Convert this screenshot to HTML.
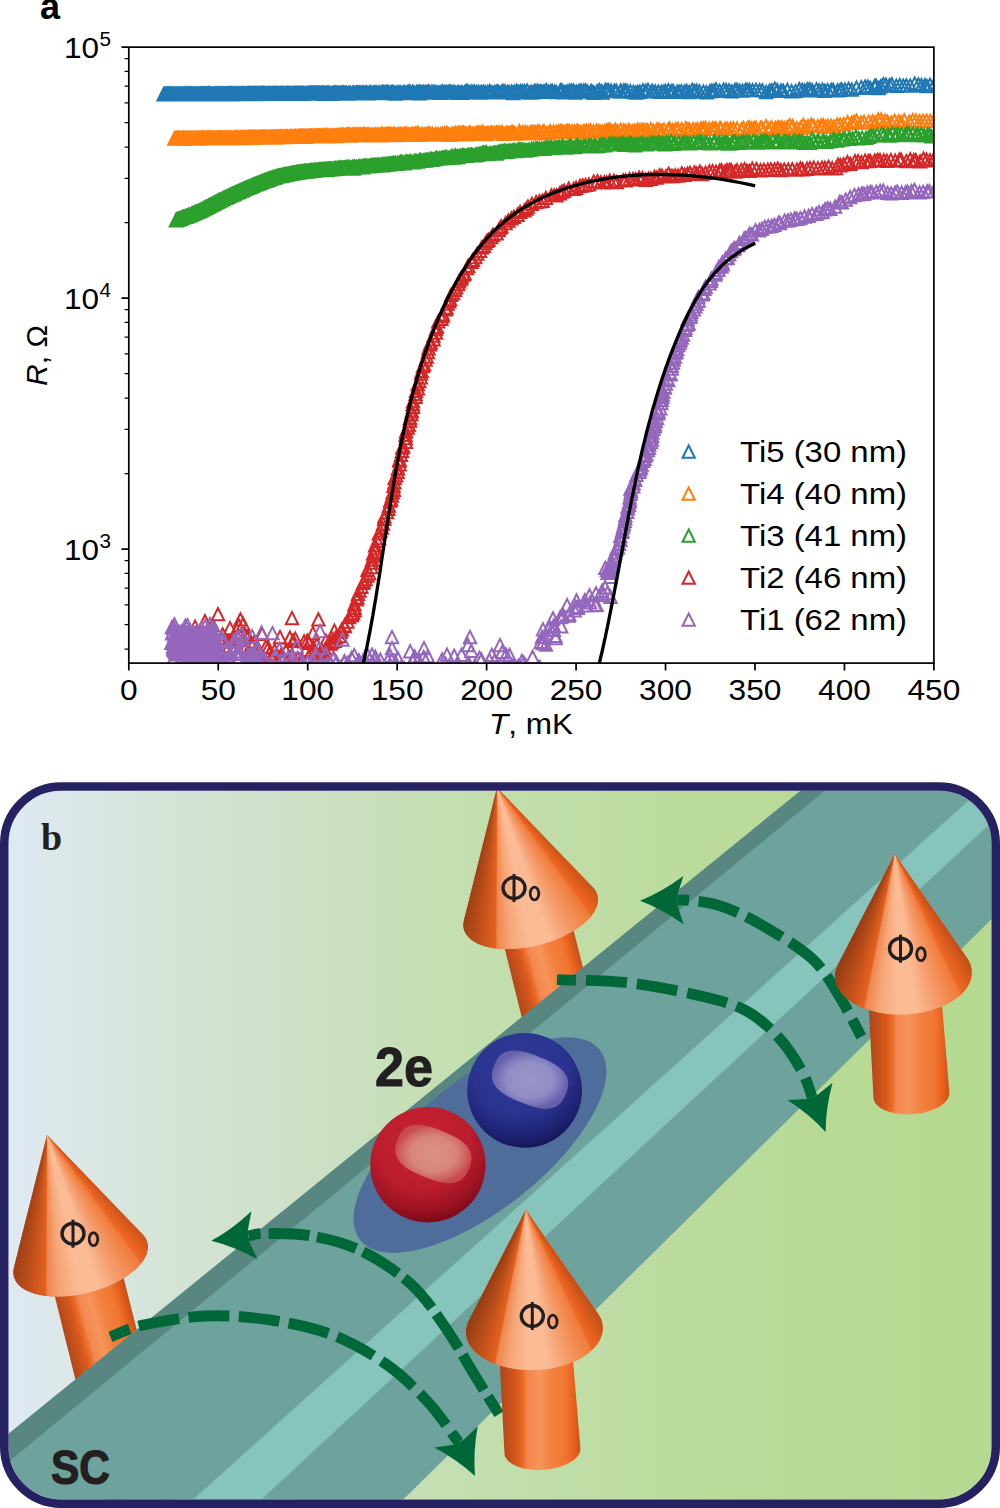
<!DOCTYPE html>
<html><head><meta charset="utf-8"><style>
html,body{margin:0;padding:0;background:#fff;width:1000px;height:1508px;overflow:hidden;}
svg{display:block;}
</style></head><body>
<svg width="1000" height="1508" viewBox="0 0 1000 1508">
<defs><linearGradient id="bg" x1="8" y1="0" x2="992" y2="0" gradientUnits="userSpaceOnUse">
<stop offset="0" stop-color="#e0e9f3"/><stop offset="0.145" stop-color="#d5e5da"/><stop offset="0.297" stop-color="#cde0c6"/>
<stop offset="0.45" stop-color="#c4dfb1"/><stop offset="0.703" stop-color="#bbdb9b"/><stop offset="1" stop-color="#b4d98f"/></linearGradient><clipPath id="pb"><rect x="8.5" y="790.75" width="983" height="708.75" rx="53" ry="53"/></clipPath><linearGradient id="sgB" x1="-25" y1="0" x2="56" y2="0" gradientUnits="userSpaceOnUse"><stop offset="0" stop-color="#b0461a"/><stop offset="0.2" stop-color="#d9591c"/><stop offset="0.27" stop-color="#ea6a26"/><stop offset="0.33" stop-color="#f3874e"/><stop offset="0.48" stop-color="#f6955c"/><stop offset="0.62" stop-color="#f3823f"/><stop offset="0.8" stop-color="#f07532"/><stop offset="0.9" stop-color="#e8601c"/><stop offset="1" stop-color="#c4501a"/></linearGradient><linearGradient id="cgB" x1="-62" y1="0" x2="80" y2="0" gradientUnits="userSpaceOnUse"><stop offset="0" stop-color="#9e3c12"/><stop offset="0.12" stop-color="#c04e19"/><stop offset="0.25" stop-color="#e3611e"/><stop offset="0.275" stop-color="#ef8147"/><stop offset="0.38" stop-color="#f7a679"/><stop offset="0.5" stop-color="#fabd96"/><stop offset="0.62" stop-color="#f8b288"/><stop offset="0.75" stop-color="#f3925d"/><stop offset="0.86" stop-color="#ec6b29"/><stop offset="0.93" stop-color="#e05a1b"/><stop offset="1" stop-color="#c84e18"/></linearGradient><linearGradient id="sgA" x1="19.2" y1="209.4" x2="88.8" y2="190.6" gradientUnits="userSpaceOnUse"><stop offset="0" stop-color="#b0461a"/><stop offset="0.2" stop-color="#d9591c"/><stop offset="0.27" stop-color="#ea6a26"/><stop offset="0.33" stop-color="#f3874e"/><stop offset="0.48" stop-color="#f6955c"/><stop offset="0.62" stop-color="#f3823f"/><stop offset="0.8" stop-color="#f07532"/><stop offset="0.9" stop-color="#e8601c"/><stop offset="1" stop-color="#c4501a"/></linearGradient><linearGradient id="cgA" x1="-33" y1="142.7" x2="99.3" y2="107" gradientUnits="userSpaceOnUse"><stop offset="0" stop-color="#9e3c12"/><stop offset="0.12" stop-color="#c04e19"/><stop offset="0.25" stop-color="#e3611e"/><stop offset="0.275" stop-color="#ef8147"/><stop offset="0.38" stop-color="#f7a679"/><stop offset="0.5" stop-color="#fabd96"/><stop offset="0.62" stop-color="#f8b288"/><stop offset="0.75" stop-color="#f3925d"/><stop offset="0.86" stop-color="#ec6b29"/><stop offset="0.93" stop-color="#e05a1b"/><stop offset="1" stop-color="#c84e18"/></linearGradient><clipPath id="chA"><path d="M0 0 L95.7 99.7 L97.5 101.8 L99 104.2 L100 106.6 L100.7 109.2 L100.9 111.8 L100.7 114.6 L100.1 117.4 L99.2 120.2 L97.8 123.1 L96 125.9 L93.8 128.8 L91.3 131.7 L88.4 134.5 L85.2 137.2 L81.7 139.9 L77.9 142.5 L73.8 144.9 L69.4 147.3 L64.9 149.5 L60.1 151.5 L55.2 153.4 L50.2 155.1 L45.1 156.7 L39.8 158 L34.6 159.2 L29.3 160.1 L24.1 160.8 L19 161.3 L13.9 161.6 L8.9 161.6 L4.1 161.4 L-0.5 161 L-4.9 160.4 L-9.1 159.5 L-13 158.5 L-16.7 157.2 L-20 155.8 L-23 154.1 L-25.7 152.3 L-27.9 150.3 L-29.9 148.1 L-31.4 145.8 L-32.5 143.4 L-33.3 140.9 L-33.6 138.2 L-33.5 135.5 L-33 132.7Z"/></clipPath><clipPath id="chB"><path d="M0 0 L72.1 103.9 L73.9 106.9 L75.4 110 L76.3 113.1 L76.9 116.4 L76.9 119.6 L76.6 122.9 L75.7 126.1 L74.5 129.3 L72.8 132.4 L70.7 135.5 L68.1 138.5 L65.2 141.3 L61.9 144 L58.3 146.6 L54.3 149 L50 151.2 L45.5 153.1 L40.7 154.9 L35.7 156.5 L30.5 157.8 L25.2 158.9 L19.7 159.7 L14.2 160.2 L8.7 160.5 L3.1 160.6 L-2.4 160.3 L-7.8 159.8 L-13.1 159.1 L-18.3 158.1 L-23.3 156.8 L-28.1 155.3 L-32.7 153.6 L-37 151.6 L-41 149.5 L-44.6 147.2 L-47.9 144.6 L-50.9 142 L-53.4 139.1 L-55.5 136.2 L-57.2 133.2 L-58.5 130 L-59.3 126.9 L-59.7 123.6 L-59.7 120.4 L-59.1 117.1 L-58.2 113.9 L-56.8 110.7Z"/></clipPath><radialGradient id="sb" cx="0.45" cy="0.3" r="0.75">
<stop offset="0" stop-color="#2f3b97"/><stop offset="0.55" stop-color="#2a338e"/><stop offset="0.8" stop-color="#1e2272"/><stop offset="1" stop-color="#11124f"/></radialGradient>
<radialGradient id="hb" cx="0.5" cy="0.5" r="0.5">
<stop offset="0" stop-color="#9896c8"/><stop offset="0.6" stop-color="#918ec5"/><stop offset="0.85" stop-color="#7773b7"/><stop offset="1" stop-color="#6561aa"/></radialGradient>
<radialGradient id="sr" cx="0.45" cy="0.3" r="0.75">
<stop offset="0" stop-color="#c62232"/><stop offset="0.55" stop-color="#bb1d2d"/><stop offset="0.8" stop-color="#9a1222"/><stop offset="1" stop-color="#6c0512"/></radialGradient>
<radialGradient id="hr" cx="0.5" cy="0.5" r="0.5">
<stop offset="0" stop-color="#dd9285"/><stop offset="0.6" stop-color="#d8857b"/><stop offset="0.85" stop-color="#cf6463"/><stop offset="1" stop-color="#c84a52"/></radialGradient><clipPath id="ax"><rect x="128.80" y="47.15" width="805.10" height="615.95"/></clipPath></defs>
<rect width="1000" height="1508" fill="#fff"/>
<g clip-path="url(#ax)"><path d="M163.6 88.1l6.15 12.3h-12.3zM164.0 88.0l6.15 12.3h-12.3zM165.0 88.2l6.15 12.3h-12.3zM165.5 88.1l6.15 12.3h-12.3zM166.1 87.9l6.15 12.3h-12.3zM166.8 87.9l6.15 12.3h-12.3zM166.9 87.9l6.15 12.3h-12.3zM167.7 87.9l6.15 12.3h-12.3zM168.2 88.0l6.15 12.3h-12.3zM168.5 88.0l6.15 12.3h-12.3zM168.8 88.0l6.15 12.3h-12.3zM169.4 88.2l6.15 12.3h-12.3zM170.1 88.2l6.15 12.3h-12.3zM170.5 88.0l6.15 12.3h-12.3zM170.8 88.0l6.15 12.3h-12.3zM171.3 88.1l6.15 12.3h-12.3zM172.1 88.3l6.15 12.3h-12.3zM172.6 88.0l6.15 12.3h-12.3zM173.3 88.1l6.15 12.3h-12.3zM174.0 88.2l6.15 12.3h-12.3zM174.5 88.0l6.15 12.3h-12.3zM174.5 87.9l6.15 12.3h-12.3zM175.6 88.2l6.15 12.3h-12.3zM175.6 88.1l6.15 12.3h-12.3zM176.4 88.0l6.15 12.3h-12.3zM177.4 88.0l6.15 12.3h-12.3zM177.7 88.2l6.15 12.3h-12.3zM178.4 88.1l6.15 12.3h-12.3zM179.2 87.9l6.15 12.3h-12.3zM179.6 88.2l6.15 12.3h-12.3zM180.1 88.1l6.15 12.3h-12.3zM180.9 88.0l6.15 12.3h-12.3zM180.7 88.0l6.15 12.3h-12.3zM180.9 88.0l6.15 12.3h-12.3zM181.9 88.3l6.15 12.3h-12.3zM182.2 88.0l6.15 12.3h-12.3zM182.8 88.0l6.15 12.3h-12.3zM183.7 87.9l6.15 12.3h-12.3zM183.9 87.8l6.15 12.3h-12.3zM184.1 88.1l6.15 12.3h-12.3zM184.7 87.9l6.15 12.3h-12.3zM184.7 87.8l6.15 12.3h-12.3zM185.1 88.1l6.15 12.3h-12.3zM186.3 87.9l6.15 12.3h-12.3zM186.6 87.8l6.15 12.3h-12.3zM187.5 88.0l6.15 12.3h-12.3zM187.6 87.8l6.15 12.3h-12.3zM188.1 88.0l6.15 12.3h-12.3zM188.6 87.8l6.15 12.3h-12.3zM189.2 88.1l6.15 12.3h-12.3zM189.5 87.9l6.15 12.3h-12.3zM190.4 87.9l6.15 12.3h-12.3zM190.5 87.9l6.15 12.3h-12.3zM191.1 87.8l6.15 12.3h-12.3zM191.5 88.2l6.15 12.3h-12.3zM192.2 87.9l6.15 12.3h-12.3zM193.2 88.0l6.15 12.3h-12.3zM193.4 88.0l6.15 12.3h-12.3zM194.1 87.8l6.15 12.3h-12.3zM195.1 87.9l6.15 12.3h-12.3zM195.5 87.9l6.15 12.3h-12.3zM196.4 87.9l6.15 12.3h-12.3zM196.5 88.1l6.15 12.3h-12.3zM197.0 87.9l6.15 12.3h-12.3zM197.8 88.1l6.15 12.3h-12.3zM198.0 88.0l6.15 12.3h-12.3zM198.7 87.9l6.15 12.3h-12.3zM198.7 88.1l6.15 12.3h-12.3zM199.6 88.2l6.15 12.3h-12.3zM199.8 87.7l6.15 12.3h-12.3zM200.3 87.9l6.15 12.3h-12.3zM200.8 87.6l6.15 12.3h-12.3zM201.9 87.9l6.15 12.3h-12.3zM202.4 87.7l6.15 12.3h-12.3zM203.0 87.7l6.15 12.3h-12.3zM203.9 88.0l6.15 12.3h-12.3zM204.4 87.8l6.15 12.3h-12.3zM205.3 87.8l6.15 12.3h-12.3zM205.7 88.2l6.15 12.3h-12.3zM206.4 87.9l6.15 12.3h-12.3zM206.3 87.8l6.15 12.3h-12.3zM207.0 87.9l6.15 12.3h-12.3zM207.9 87.9l6.15 12.3h-12.3zM208.0 87.6l6.15 12.3h-12.3zM208.4 87.8l6.15 12.3h-12.3zM208.9 87.7l6.15 12.3h-12.3zM209.7 87.9l6.15 12.3h-12.3zM209.8 87.9l6.15 12.3h-12.3zM210.3 87.9l6.15 12.3h-12.3zM210.7 87.8l6.15 12.3h-12.3zM210.7 87.9l6.15 12.3h-12.3zM211.2 88.1l6.15 12.3h-12.3zM212.1 88.0l6.15 12.3h-12.3zM212.1 87.9l6.15 12.3h-12.3zM213.4 87.7l6.15 12.3h-12.3zM213.8 88.0l6.15 12.3h-12.3zM214.5 88.1l6.15 12.3h-12.3zM215.1 87.6l6.15 12.3h-12.3zM216.2 88.0l6.15 12.3h-12.3zM216.7 87.9l6.15 12.3h-12.3zM217.0 87.9l6.15 12.3h-12.3zM217.8 87.8l6.15 12.3h-12.3zM218.1 88.1l6.15 12.3h-12.3zM218.8 87.8l6.15 12.3h-12.3zM219.4 88.0l6.15 12.3h-12.3zM220.1 87.8l6.15 12.3h-12.3zM220.4 87.8l6.15 12.3h-12.3zM221.7 87.7l6.15 12.3h-12.3zM221.5 88.0l6.15 12.3h-12.3zM222.4 87.8l6.15 12.3h-12.3zM222.8 87.7l6.15 12.3h-12.3zM224.0 87.8l6.15 12.3h-12.3zM223.6 87.9l6.15 12.3h-12.3zM224.1 88.0l6.15 12.3h-12.3zM225.1 88.0l6.15 12.3h-12.3zM225.7 88.1l6.15 12.3h-12.3zM225.9 87.6l6.15 12.3h-12.3zM227.0 87.9l6.15 12.3h-12.3zM227.1 87.7l6.15 12.3h-12.3zM227.9 87.8l6.15 12.3h-12.3zM228.4 87.8l6.15 12.3h-12.3zM229.0 87.9l6.15 12.3h-12.3zM229.9 87.8l6.15 12.3h-12.3zM230.2 87.5l6.15 12.3h-12.3zM230.7 87.9l6.15 12.3h-12.3zM230.6 87.7l6.15 12.3h-12.3zM231.6 88.1l6.15 12.3h-12.3zM231.6 87.6l6.15 12.3h-12.3zM232.5 87.6l6.15 12.3h-12.3zM232.9 87.9l6.15 12.3h-12.3zM234.1 87.7l6.15 12.3h-12.3zM234.2 87.7l6.15 12.3h-12.3zM234.6 87.6l6.15 12.3h-12.3zM235.6 87.8l6.15 12.3h-12.3zM235.6 87.7l6.15 12.3h-12.3zM236.8 87.7l6.15 12.3h-12.3zM237.4 87.6l6.15 12.3h-12.3zM238.1 87.8l6.15 12.3h-12.3zM238.9 87.8l6.15 12.3h-12.3zM238.9 87.7l6.15 12.3h-12.3zM240.0 87.7l6.15 12.3h-12.3zM240.0 87.8l6.15 12.3h-12.3zM240.7 87.9l6.15 12.3h-12.3zM241.4 87.8l6.15 12.3h-12.3zM241.7 87.7l6.15 12.3h-12.3zM242.3 87.6l6.15 12.3h-12.3zM242.8 87.6l6.15 12.3h-12.3zM244.0 87.5l6.15 12.3h-12.3zM244.3 87.6l6.15 12.3h-12.3zM245.0 87.9l6.15 12.3h-12.3zM245.9 87.7l6.15 12.3h-12.3zM246.5 87.7l6.15 12.3h-12.3zM247.0 87.6l6.15 12.3h-12.3zM247.7 87.8l6.15 12.3h-12.3zM248.3 87.5l6.15 12.3h-12.3zM248.7 87.5l6.15 12.3h-12.3zM249.4 87.9l6.15 12.3h-12.3zM249.7 87.6l6.15 12.3h-12.3zM250.7 87.6l6.15 12.3h-12.3zM251.1 87.6l6.15 12.3h-12.3zM251.3 87.5l6.15 12.3h-12.3zM252.5 87.6l6.15 12.3h-12.3zM252.7 87.7l6.15 12.3h-12.3zM253.9 87.5l6.15 12.3h-12.3zM253.6 87.5l6.15 12.3h-12.3zM254.5 87.5l6.15 12.3h-12.3zM254.8 87.9l6.15 12.3h-12.3zM255.5 87.5l6.15 12.3h-12.3zM255.6 87.6l6.15 12.3h-12.3zM255.9 87.9l6.15 12.3h-12.3zM256.6 87.5l6.15 12.3h-12.3zM257.0 87.7l6.15 12.3h-12.3zM257.7 87.5l6.15 12.3h-12.3zM258.3 87.8l6.15 12.3h-12.3zM259.0 87.5l6.15 12.3h-12.3zM259.4 87.5l6.15 12.3h-12.3zM259.9 87.7l6.15 12.3h-12.3zM260.6 87.6l6.15 12.3h-12.3zM260.9 87.6l6.15 12.3h-12.3zM261.8 87.6l6.15 12.3h-12.3zM262.2 87.5l6.15 12.3h-12.3zM262.7 87.3l6.15 12.3h-12.3zM263.4 87.6l6.15 12.3h-12.3zM263.7 87.5l6.15 12.3h-12.3zM264.0 87.6l6.15 12.3h-12.3zM264.7 87.6l6.15 12.3h-12.3zM265.0 87.7l6.15 12.3h-12.3zM265.8 87.6l6.15 12.3h-12.3zM266.5 87.5l6.15 12.3h-12.3zM267.3 87.7l6.15 12.3h-12.3zM267.3 87.7l6.15 12.3h-12.3zM268.4 87.6l6.15 12.3h-12.3zM268.8 87.6l6.15 12.3h-12.3zM269.3 87.4l6.15 12.3h-12.3zM269.7 87.8l6.15 12.3h-12.3zM270.5 87.8l6.15 12.3h-12.3zM270.9 87.5l6.15 12.3h-12.3zM271.4 87.6l6.15 12.3h-12.3zM272.3 87.7l6.15 12.3h-12.3zM272.6 87.7l6.15 12.3h-12.3zM273.3 87.6l6.15 12.3h-12.3zM273.6 87.4l6.15 12.3h-12.3zM274.4 87.5l6.15 12.3h-12.3zM274.5 87.5l6.15 12.3h-12.3zM275.4 87.2l6.15 12.3h-12.3zM276.3 87.6l6.15 12.3h-12.3zM276.7 87.6l6.15 12.3h-12.3zM277.0 87.6l6.15 12.3h-12.3zM278.0 87.7l6.15 12.3h-12.3zM278.1 87.6l6.15 12.3h-12.3zM278.5 87.6l6.15 12.3h-12.3zM279.2 87.5l6.15 12.3h-12.3zM280.2 87.5l6.15 12.3h-12.3zM280.3 87.5l6.15 12.3h-12.3zM281.0 87.7l6.15 12.3h-12.3zM281.0 87.6l6.15 12.3h-12.3zM281.4 87.6l6.15 12.3h-12.3zM282.4 87.4l6.15 12.3h-12.3zM282.6 87.6l6.15 12.3h-12.3zM282.8 87.5l6.15 12.3h-12.3zM283.9 87.5l6.15 12.3h-12.3zM284.3 87.4l6.15 12.3h-12.3zM284.7 87.6l6.15 12.3h-12.3zM285.2 87.6l6.15 12.3h-12.3zM286.6 87.5l6.15 12.3h-12.3zM287.0 87.5l6.15 12.3h-12.3zM287.0 87.5l6.15 12.3h-12.3zM287.1 87.3l6.15 12.3h-12.3zM287.8 87.4l6.15 12.3h-12.3zM288.5 87.4l6.15 12.3h-12.3zM288.9 87.4l6.15 12.3h-12.3zM289.9 87.4l6.15 12.3h-12.3zM290.1 87.4l6.15 12.3h-12.3zM290.2 87.3l6.15 12.3h-12.3zM291.7 87.6l6.15 12.3h-12.3zM291.6 87.7l6.15 12.3h-12.3zM291.8 87.6l6.15 12.3h-12.3zM292.7 87.4l6.15 12.3h-12.3zM293.3 87.5l6.15 12.3h-12.3zM292.7 87.5l6.15 12.3h-12.3zM294.1 87.5l6.15 12.3h-12.3zM294.0 87.5l6.15 12.3h-12.3zM294.7 87.3l6.15 12.3h-12.3zM294.7 87.6l6.15 12.3h-12.3zM296.0 87.7l6.15 12.3h-12.3zM295.9 87.3l6.15 12.3h-12.3zM296.7 87.4l6.15 12.3h-12.3zM297.6 87.2l6.15 12.3h-12.3zM298.1 87.3l6.15 12.3h-12.3zM298.4 87.3l6.15 12.3h-12.3zM299.0 87.6l6.15 12.3h-12.3zM299.8 87.5l6.15 12.3h-12.3zM300.2 87.4l6.15 12.3h-12.3zM300.2 87.4l6.15 12.3h-12.3zM300.7 87.2l6.15 12.3h-12.3zM301.8 87.3l6.15 12.3h-12.3zM301.8 87.4l6.15 12.3h-12.3zM302.3 87.5l6.15 12.3h-12.3zM303.0 87.6l6.15 12.3h-12.3zM303.6 87.3l6.15 12.3h-12.3zM303.5 87.2l6.15 12.3h-12.3zM304.9 87.4l6.15 12.3h-12.3zM305.0 87.4l6.15 12.3h-12.3zM305.8 87.4l6.15 12.3h-12.3zM306.1 87.2l6.15 12.3h-12.3zM307.2 87.4l6.15 12.3h-12.3zM308.5 87.3l6.15 12.3h-12.3zM308.5 87.1l6.15 12.3h-12.3zM309.4 87.2l6.15 12.3h-12.3zM309.8 87.0l6.15 12.3h-12.3zM310.4 87.3l6.15 12.3h-12.3zM311.0 87.3l6.15 12.3h-12.3zM311.6 87.3l6.15 12.3h-12.3zM311.6 87.2l6.15 12.3h-12.3zM312.6 87.0l6.15 12.3h-12.3zM313.1 87.0l6.15 12.3h-12.3zM313.4 87.2l6.15 12.3h-12.3zM314.0 87.1l6.15 12.3h-12.3zM314.4 87.2l6.15 12.3h-12.3zM315.8 87.1l6.15 12.3h-12.3zM315.4 87.4l6.15 12.3h-12.3zM316.4 87.2l6.15 12.3h-12.3zM316.8 87.1l6.15 12.3h-12.3zM317.4 87.1l6.15 12.3h-12.3zM318.1 86.9l6.15 12.3h-12.3zM319.1 87.3l6.15 12.3h-12.3zM319.1 87.3l6.15 12.3h-12.3zM319.5 87.0l6.15 12.3h-12.3zM320.3 87.4l6.15 12.3h-12.3zM321.1 87.1l6.15 12.3h-12.3zM321.9 87.3l6.15 12.3h-12.3zM322.2 87.2l6.15 12.3h-12.3zM322.7 86.8l6.15 12.3h-12.3zM323.2 87.2l6.15 12.3h-12.3zM323.8 87.3l6.15 12.3h-12.3zM324.5 87.6l6.15 12.3h-12.3zM325.2 87.2l6.15 12.3h-12.3zM325.7 87.1l6.15 12.3h-12.3zM326.9 87.0l6.15 12.3h-12.3zM327.4 87.1l6.15 12.3h-12.3zM328.2 87.1l6.15 12.3h-12.3zM329.1 87.0l6.15 12.3h-12.3zM329.7 87.1l6.15 12.3h-12.3zM331.2 87.6l6.15 12.3h-12.3zM331.9 87.2l6.15 12.3h-12.3zM332.7 87.4l6.15 12.3h-12.3zM333.5 87.1l6.15 12.3h-12.3zM334.3 86.9l6.15 12.3h-12.3zM335.0 87.1l6.15 12.3h-12.3zM335.3 86.6l6.15 12.3h-12.3zM336.4 87.1l6.15 12.3h-12.3zM337.2 86.9l6.15 12.3h-12.3zM338.0 87.3l6.15 12.3h-12.3zM339.2 86.9l6.15 12.3h-12.3zM339.9 87.0l6.15 12.3h-12.3zM340.4 87.2l6.15 12.3h-12.3zM341.5 87.1l6.15 12.3h-12.3zM342.2 87.1l6.15 12.3h-12.3zM342.9 86.8l6.15 12.3h-12.3zM343.8 86.8l6.15 12.3h-12.3zM345.0 87.0l6.15 12.3h-12.3zM346.1 87.1l6.15 12.3h-12.3zM346.7 87.1l6.15 12.3h-12.3zM348.1 87.4l6.15 12.3h-12.3zM348.3 87.1l6.15 12.3h-12.3zM349.8 86.9l6.15 12.3h-12.3zM350.5 86.9l6.15 12.3h-12.3zM350.7 87.1l6.15 12.3h-12.3zM352.7 86.8l6.15 12.3h-12.3zM353.7 86.6l6.15 12.3h-12.3zM353.9 86.8l6.15 12.3h-12.3zM355.2 87.1l6.15 12.3h-12.3zM356.4 86.8l6.15 12.3h-12.3zM357.0 87.1l6.15 12.3h-12.3zM357.4 86.8l6.15 12.3h-12.3zM357.9 87.1l6.15 12.3h-12.3zM359.1 86.6l6.15 12.3h-12.3zM360.1 86.7l6.15 12.3h-12.3zM361.0 87.3l6.15 12.3h-12.3zM361.9 86.7l6.15 12.3h-12.3zM362.9 86.8l6.15 12.3h-12.3zM363.5 86.7l6.15 12.3h-12.3zM365.4 86.5l6.15 12.3h-12.3zM366.6 86.8l6.15 12.3h-12.3zM366.9 86.4l6.15 12.3h-12.3zM368.2 87.2l6.15 12.3h-12.3zM369.8 86.3l6.15 12.3h-12.3zM370.3 86.7l6.15 12.3h-12.3zM371.7 86.8l6.15 12.3h-12.3zM372.0 86.9l6.15 12.3h-12.3zM373.7 86.7l6.15 12.3h-12.3zM374.4 86.6l6.15 12.3h-12.3zM375.8 86.4l6.15 12.3h-12.3zM376.7 86.7l6.15 12.3h-12.3zM378.7 86.2l6.15 12.3h-12.3zM379.1 87.0l6.15 12.3h-12.3zM380.3 86.9l6.15 12.3h-12.3zM381.8 86.2l6.15 12.3h-12.3zM382.9 85.8l6.15 12.3h-12.3zM383.6 86.7l6.15 12.3h-12.3zM385.0 86.1l6.15 12.3h-12.3zM386.4 86.3l6.15 12.3h-12.3zM387.2 85.9l6.15 12.3h-12.3zM388.1 86.1l6.15 12.3h-12.3zM389.9 86.6l6.15 12.3h-12.3zM390.9 86.9l6.15 12.3h-12.3zM391.7 86.2l6.15 12.3h-12.3zM392.6 86.1l6.15 12.3h-12.3zM393.9 86.6l6.15 12.3h-12.3zM394.9 87.3l6.15 12.3h-12.3zM395.6 87.4l6.15 12.3h-12.3zM396.7 86.5l6.15 12.3h-12.3zM398.3 86.3l6.15 12.3h-12.3zM400.0 86.3l6.15 12.3h-12.3zM400.6 86.4l6.15 12.3h-12.3zM402.4 86.8l6.15 12.3h-12.3zM403.7 86.5l6.15 12.3h-12.3zM404.7 86.2l6.15 12.3h-12.3zM405.5 86.9l6.15 12.3h-12.3zM407.2 86.1l6.15 12.3h-12.3zM408.6 86.0l6.15 12.3h-12.3zM409.6 85.4l6.15 12.3h-12.3zM410.5 86.3l6.15 12.3h-12.3zM412.6 85.7l6.15 12.3h-12.3zM414.1 86.4l6.15 12.3h-12.3zM414.5 86.7l6.15 12.3h-12.3zM416.5 86.3l6.15 12.3h-12.3zM417.2 86.0l6.15 12.3h-12.3zM418.9 85.8l6.15 12.3h-12.3zM419.8 87.3l6.15 12.3h-12.3zM420.3 85.8l6.15 12.3h-12.3zM421.9 86.4l6.15 12.3h-12.3zM423.4 85.8l6.15 12.3h-12.3zM424.6 86.4l6.15 12.3h-12.3zM426.0 86.0l6.15 12.3h-12.3zM427.4 85.9l6.15 12.3h-12.3zM428.7 85.6l6.15 12.3h-12.3zM429.5 86.0l6.15 12.3h-12.3zM431.8 85.8l6.15 12.3h-12.3zM433.0 86.1l6.15 12.3h-12.3zM434.8 85.7l6.15 12.3h-12.3zM436.6 86.4l6.15 12.3h-12.3zM438.1 86.5l6.15 12.3h-12.3zM439.7 86.7l6.15 12.3h-12.3zM440.4 86.4l6.15 12.3h-12.3zM442.0 85.8l6.15 12.3h-12.3zM442.7 85.6l6.15 12.3h-12.3zM444.4 86.5l6.15 12.3h-12.3zM445.0 85.7l6.15 12.3h-12.3zM446.7 86.3l6.15 12.3h-12.3zM448.2 86.0l6.15 12.3h-12.3zM449.8 85.3l6.15 12.3h-12.3zM451.3 86.1l6.15 12.3h-12.3zM452.2 86.5l6.15 12.3h-12.3zM453.9 85.8l6.15 12.3h-12.3zM455.8 86.5l6.15 12.3h-12.3zM457.7 86.6l6.15 12.3h-12.3zM458.8 85.9l6.15 12.3h-12.3zM461.0 86.3l6.15 12.3h-12.3zM462.5 86.6l6.15 12.3h-12.3zM464.6 86.3l6.15 12.3h-12.3zM466.1 84.7l6.15 12.3h-12.3zM467.5 85.4l6.15 12.3h-12.3zM469.0 85.6l6.15 12.3h-12.3zM471.3 85.6l6.15 12.3h-12.3zM472.6 86.0l6.15 12.3h-12.3zM474.4 85.6l6.15 12.3h-12.3zM476.5 86.1l6.15 12.3h-12.3zM478.4 85.7l6.15 12.3h-12.3zM480.3 86.4l6.15 12.3h-12.3zM481.7 86.1l6.15 12.3h-12.3zM483.4 85.9l6.15 12.3h-12.3zM485.0 86.0l6.15 12.3h-12.3zM487.4 85.9l6.15 12.3h-12.3zM489.2 85.8l6.15 12.3h-12.3zM489.8 85.0l6.15 12.3h-12.3zM492.0 86.3l6.15 12.3h-12.3zM494.4 86.1l6.15 12.3h-12.3zM496.2 85.7l6.15 12.3h-12.3zM497.5 85.6l6.15 12.3h-12.3zM498.7 85.7l6.15 12.3h-12.3zM501.2 86.0l6.15 12.3h-12.3zM502.9 84.8l6.15 12.3h-12.3zM504.5 85.9l6.15 12.3h-12.3zM505.1 85.2l6.15 12.3h-12.3zM507.8 85.7l6.15 12.3h-12.3zM509.4 86.2l6.15 12.3h-12.3zM511.7 85.4l6.15 12.3h-12.3zM513.2 86.9l6.15 12.3h-12.3zM514.6 85.8l6.15 12.3h-12.3zM516.7 84.8l6.15 12.3h-12.3zM518.7 85.9l6.15 12.3h-12.3zM520.5 85.0l6.15 12.3h-12.3zM522.7 85.0l6.15 12.3h-12.3zM524.7 85.1l6.15 12.3h-12.3zM527.1 84.5l6.15 12.3h-12.3zM529.7 86.4l6.15 12.3h-12.3zM531.5 85.8l6.15 12.3h-12.3zM533.3 86.2l6.15 12.3h-12.3zM535.0 84.6l6.15 12.3h-12.3zM537.5 84.6l6.15 12.3h-12.3zM539.1 85.6l6.15 12.3h-12.3zM540.5 85.6l6.15 12.3h-12.3zM541.9 85.5l6.15 12.3h-12.3zM544.1 85.1l6.15 12.3h-12.3zM546.5 84.1l6.15 12.3h-12.3zM548.2 85.8l6.15 12.3h-12.3zM550.4 85.3l6.15 12.3h-12.3zM552.1 84.8l6.15 12.3h-12.3zM554.6 85.6l6.15 12.3h-12.3zM556.3 86.0l6.15 12.3h-12.3zM559.8 85.2l6.15 12.3h-12.3zM560.7 83.9l6.15 12.3h-12.3zM562.2 84.6l6.15 12.3h-12.3zM564.2 86.2l6.15 12.3h-12.3zM566.1 85.8l6.15 12.3h-12.3zM567.8 85.6l6.15 12.3h-12.3zM569.6 84.4l6.15 12.3h-12.3zM571.6 84.7l6.15 12.3h-12.3zM573.4 84.4l6.15 12.3h-12.3zM575.4 86.4l6.15 12.3h-12.3zM576.8 85.5l6.15 12.3h-12.3zM578.8 85.2l6.15 12.3h-12.3zM580.1 84.7l6.15 12.3h-12.3zM581.1 84.8l6.15 12.3h-12.3zM583.6 84.5l6.15 12.3h-12.3zM585.5 84.2l6.15 12.3h-12.3zM587.5 85.4l6.15 12.3h-12.3zM591.0 84.8l6.15 12.3h-12.3zM592.6 85.9l6.15 12.3h-12.3zM594.0 86.6l6.15 12.3h-12.3zM597.1 85.1l6.15 12.3h-12.3zM599.3 84.1l6.15 12.3h-12.3zM601.3 85.1l6.15 12.3h-12.3zM602.7 86.4l6.15 12.3h-12.3zM605.3 83.8l6.15 12.3h-12.3zM607.2 84.3l6.15 12.3h-12.3zM608.7 84.3l6.15 12.3h-12.3zM611.3 84.6l6.15 12.3h-12.3zM614.5 84.5l6.15 12.3h-12.3zM616.4 84.8l6.15 12.3h-12.3zM620.1 85.4l6.15 12.3h-12.3zM620.8 84.3l6.15 12.3h-12.3zM623.8 84.3l6.15 12.3h-12.3zM625.5 84.6l6.15 12.3h-12.3zM627.1 84.7l6.15 12.3h-12.3zM630.3 85.1l6.15 12.3h-12.3zM633.5 85.8l6.15 12.3h-12.3zM636.0 86.5l6.15 12.3h-12.3zM637.7 85.9l6.15 12.3h-12.3zM639.9 85.6l6.15 12.3h-12.3zM642.9 84.2l6.15 12.3h-12.3zM645.7 84.7l6.15 12.3h-12.3zM648.0 83.8l6.15 12.3h-12.3zM651.5 85.2l6.15 12.3h-12.3zM652.7 85.1l6.15 12.3h-12.3zM655.2 85.2l6.15 12.3h-12.3zM658.4 85.4l6.15 12.3h-12.3zM661.4 85.6l6.15 12.3h-12.3zM663.7 85.7l6.15 12.3h-12.3zM665.4 84.8l6.15 12.3h-12.3zM668.4 84.1l6.15 12.3h-12.3zM671.3 85.1l6.15 12.3h-12.3zM673.1 84.7l6.15 12.3h-12.3zM677.0 85.7l6.15 12.3h-12.3zM679.1 85.6l6.15 12.3h-12.3zM681.4 84.9l6.15 12.3h-12.3zM684.5 85.5l6.15 12.3h-12.3zM686.6 84.7l6.15 12.3h-12.3zM689.2 86.0l6.15 12.3h-12.3zM692.3 83.8l6.15 12.3h-12.3zM694.5 85.0l6.15 12.3h-12.3zM696.7 84.6l6.15 12.3h-12.3zM699.5 85.1l6.15 12.3h-12.3zM703.4 85.4l6.15 12.3h-12.3zM706.6 86.1l6.15 12.3h-12.3zM710.0 85.1l6.15 12.3h-12.3zM711.9 84.6l6.15 12.3h-12.3zM714.0 84.4l6.15 12.3h-12.3zM716.1 83.3l6.15 12.3h-12.3zM719.7 84.6l6.15 12.3h-12.3zM723.6 83.6l6.15 12.3h-12.3zM726.1 84.0l6.15 12.3h-12.3zM729.0 84.2l6.15 12.3h-12.3zM731.8 85.2l6.15 12.3h-12.3zM735.0 83.7l6.15 12.3h-12.3zM736.9 83.8l6.15 12.3h-12.3zM739.4 84.5l6.15 12.3h-12.3zM742.4 84.5l6.15 12.3h-12.3zM745.4 83.9l6.15 12.3h-12.3zM747.0 83.7l6.15 12.3h-12.3zM749.3 83.8l6.15 12.3h-12.3zM752.5 84.0l6.15 12.3h-12.3zM756.0 83.7l6.15 12.3h-12.3zM759.6 84.0l6.15 12.3h-12.3zM762.4 84.2l6.15 12.3h-12.3zM766.2 85.9l6.15 12.3h-12.3zM769.6 84.5l6.15 12.3h-12.3zM771.9 84.2l6.15 12.3h-12.3zM774.8 82.6l6.15 12.3h-12.3zM777.3 83.9l6.15 12.3h-12.3zM780.9 84.6l6.15 12.3h-12.3zM783.1 84.5l6.15 12.3h-12.3zM787.4 83.8l6.15 12.3h-12.3zM791.6 85.1l6.15 12.3h-12.3zM795.5 84.9l6.15 12.3h-12.3zM799.3 83.0l6.15 12.3h-12.3zM802.1 83.8l6.15 12.3h-12.3zM804.7 84.2l6.15 12.3h-12.3zM807.6 83.0l6.15 12.3h-12.3zM809.9 83.1l6.15 12.3h-12.3zM812.3 84.0l6.15 12.3h-12.3zM816.5 83.2l6.15 12.3h-12.3zM819.2 84.3l6.15 12.3h-12.3zM822.4 83.5l6.15 12.3h-12.3zM824.7 84.7l6.15 12.3h-12.3zM827.6 83.9l6.15 12.3h-12.3zM831.2 83.7l6.15 12.3h-12.3zM833.1 83.8l6.15 12.3h-12.3zM837.5 84.2l6.15 12.3h-12.3zM840.3 83.8l6.15 12.3h-12.3zM841.8 83.4l6.15 12.3h-12.3zM845.0 83.5l6.15 12.3h-12.3zM848.6 82.7l6.15 12.3h-12.3zM851.8 83.5l6.15 12.3h-12.3zM856.5 81.6l6.15 12.3h-12.3zM861.3 81.1l6.15 12.3h-12.3zM865.1 80.4l6.15 12.3h-12.3zM867.8 80.5l6.15 12.3h-12.3zM870.2 81.8l6.15 12.3h-12.3zM874.6 80.0l6.15 12.3h-12.3zM876.1 79.4l6.15 12.3h-12.3zM878.8 81.9l6.15 12.3h-12.3zM880.8 80.2l6.15 12.3h-12.3zM883.3 78.1l6.15 12.3h-12.3zM885.9 78.4l6.15 12.3h-12.3zM889.6 78.9l6.15 12.3h-12.3zM891.9 78.1l6.15 12.3h-12.3zM896.4 79.6l6.15 12.3h-12.3zM899.8 79.0l6.15 12.3h-12.3zM903.2 79.4l6.15 12.3h-12.3zM906.4 79.3l6.15 12.3h-12.3zM910.2 79.4l6.15 12.3h-12.3zM914.7 77.4l6.15 12.3h-12.3zM918.4 78.2l6.15 12.3h-12.3zM921.5 79.1l6.15 12.3h-12.3zM924.9 79.0l6.15 12.3h-12.3zM926.8 79.9l6.15 12.3h-12.3zM930.0 78.6l6.15 12.3h-12.3zM933.8 79.3l6.15 12.3h-12.3zM938.3 77.8l6.15 12.3h-12.3z" fill="none" stroke="#1f77b4" stroke-width="2.0" stroke-miterlimit="10"/><path d="M174.3 132.4l6.15 12.3h-12.3zM174.9 132.4l6.15 12.3h-12.3zM175.1 132.2l6.15 12.3h-12.3zM176.0 132.3l6.15 12.3h-12.3zM176.5 132.3l6.15 12.3h-12.3zM177.2 132.1l6.15 12.3h-12.3zM177.7 132.3l6.15 12.3h-12.3zM178.2 132.4l6.15 12.3h-12.3zM178.8 132.1l6.15 12.3h-12.3zM179.5 132.2l6.15 12.3h-12.3zM180.0 132.5l6.15 12.3h-12.3zM180.1 132.2l6.15 12.3h-12.3zM180.8 132.5l6.15 12.3h-12.3zM181.7 132.4l6.15 12.3h-12.3zM182.0 132.4l6.15 12.3h-12.3zM182.4 132.4l6.15 12.3h-12.3zM183.1 132.3l6.15 12.3h-12.3zM183.4 132.3l6.15 12.3h-12.3zM183.7 132.1l6.15 12.3h-12.3zM184.4 132.6l6.15 12.3h-12.3zM185.2 132.1l6.15 12.3h-12.3zM185.9 132.5l6.15 12.3h-12.3zM186.6 132.3l6.15 12.3h-12.3zM187.0 132.2l6.15 12.3h-12.3zM187.7 132.3l6.15 12.3h-12.3zM187.7 132.5l6.15 12.3h-12.3zM188.7 132.4l6.15 12.3h-12.3zM189.1 132.2l6.15 12.3h-12.3zM189.6 132.2l6.15 12.3h-12.3zM190.3 132.2l6.15 12.3h-12.3zM191.0 132.1l6.15 12.3h-12.3zM191.7 132.1l6.15 12.3h-12.3zM192.2 132.5l6.15 12.3h-12.3zM193.0 132.2l6.15 12.3h-12.3zM193.6 132.2l6.15 12.3h-12.3zM194.3 132.4l6.15 12.3h-12.3zM195.3 132.1l6.15 12.3h-12.3zM194.9 132.4l6.15 12.3h-12.3zM195.6 132.3l6.15 12.3h-12.3zM195.9 132.1l6.15 12.3h-12.3zM196.9 132.2l6.15 12.3h-12.3zM197.4 132.1l6.15 12.3h-12.3zM198.2 132.4l6.15 12.3h-12.3zM198.6 132.1l6.15 12.3h-12.3zM198.9 132.1l6.15 12.3h-12.3zM199.7 132.2l6.15 12.3h-12.3zM200.4 132.1l6.15 12.3h-12.3zM201.0 132.2l6.15 12.3h-12.3zM201.6 132.3l6.15 12.3h-12.3zM201.6 132.3l6.15 12.3h-12.3zM202.1 132.0l6.15 12.3h-12.3zM202.8 131.9l6.15 12.3h-12.3zM203.2 131.9l6.15 12.3h-12.3zM203.8 132.1l6.15 12.3h-12.3zM204.8 132.1l6.15 12.3h-12.3zM204.9 132.3l6.15 12.3h-12.3zM205.4 132.1l6.15 12.3h-12.3zM206.4 132.3l6.15 12.3h-12.3zM206.7 132.1l6.15 12.3h-12.3zM207.4 132.1l6.15 12.3h-12.3zM207.7 131.8l6.15 12.3h-12.3zM208.2 131.9l6.15 12.3h-12.3zM208.5 132.1l6.15 12.3h-12.3zM208.7 132.2l6.15 12.3h-12.3zM209.4 131.9l6.15 12.3h-12.3zM210.1 131.8l6.15 12.3h-12.3zM210.4 132.0l6.15 12.3h-12.3zM210.3 132.2l6.15 12.3h-12.3zM211.3 131.8l6.15 12.3h-12.3zM211.9 132.3l6.15 12.3h-12.3zM212.6 131.9l6.15 12.3h-12.3zM212.9 132.1l6.15 12.3h-12.3zM213.8 132.2l6.15 12.3h-12.3zM213.9 132.0l6.15 12.3h-12.3zM214.2 132.1l6.15 12.3h-12.3zM215.3 132.3l6.15 12.3h-12.3zM215.7 132.0l6.15 12.3h-12.3zM216.3 132.0l6.15 12.3h-12.3zM217.1 132.2l6.15 12.3h-12.3zM218.0 132.0l6.15 12.3h-12.3zM218.7 131.9l6.15 12.3h-12.3zM218.4 131.9l6.15 12.3h-12.3zM219.3 132.0l6.15 12.3h-12.3zM219.9 131.9l6.15 12.3h-12.3zM220.4 131.8l6.15 12.3h-12.3zM220.7 131.9l6.15 12.3h-12.3zM221.5 131.8l6.15 12.3h-12.3zM222.9 131.7l6.15 12.3h-12.3zM223.1 131.8l6.15 12.3h-12.3zM223.9 132.1l6.15 12.3h-12.3zM224.1 132.0l6.15 12.3h-12.3zM225.0 131.8l6.15 12.3h-12.3zM224.9 132.1l6.15 12.3h-12.3zM225.2 131.8l6.15 12.3h-12.3zM226.8 131.8l6.15 12.3h-12.3zM227.1 132.0l6.15 12.3h-12.3zM227.7 131.9l6.15 12.3h-12.3zM228.0 131.8l6.15 12.3h-12.3zM228.2 131.7l6.15 12.3h-12.3zM228.8 132.0l6.15 12.3h-12.3zM229.8 131.7l6.15 12.3h-12.3zM230.7 131.9l6.15 12.3h-12.3zM231.4 131.7l6.15 12.3h-12.3zM231.1 131.9l6.15 12.3h-12.3zM232.1 131.9l6.15 12.3h-12.3zM232.0 131.8l6.15 12.3h-12.3zM233.5 132.1l6.15 12.3h-12.3zM233.6 131.7l6.15 12.3h-12.3zM234.5 131.9l6.15 12.3h-12.3zM235.2 131.6l6.15 12.3h-12.3zM235.5 131.8l6.15 12.3h-12.3zM235.6 131.6l6.15 12.3h-12.3zM236.7 131.5l6.15 12.3h-12.3zM237.2 131.8l6.15 12.3h-12.3zM237.9 131.8l6.15 12.3h-12.3zM238.3 131.9l6.15 12.3h-12.3zM238.8 131.6l6.15 12.3h-12.3zM238.6 131.4l6.15 12.3h-12.3zM239.0 131.7l6.15 12.3h-12.3zM240.3 131.7l6.15 12.3h-12.3zM240.4 131.5l6.15 12.3h-12.3zM241.0 131.6l6.15 12.3h-12.3zM241.3 131.6l6.15 12.3h-12.3zM242.5 131.9l6.15 12.3h-12.3zM242.9 131.4l6.15 12.3h-12.3zM243.1 131.7l6.15 12.3h-12.3zM243.9 131.5l6.15 12.3h-12.3zM244.5 131.5l6.15 12.3h-12.3zM244.5 131.7l6.15 12.3h-12.3zM245.0 131.4l6.15 12.3h-12.3zM246.0 131.9l6.15 12.3h-12.3zM246.7 131.6l6.15 12.3h-12.3zM247.1 131.5l6.15 12.3h-12.3zM248.1 131.3l6.15 12.3h-12.3zM248.3 131.5l6.15 12.3h-12.3zM249.1 131.5l6.15 12.3h-12.3zM249.5 131.2l6.15 12.3h-12.3zM250.3 131.6l6.15 12.3h-12.3zM250.0 131.5l6.15 12.3h-12.3zM250.9 131.6l6.15 12.3h-12.3zM251.4 131.2l6.15 12.3h-12.3zM251.9 131.4l6.15 12.3h-12.3zM252.7 131.3l6.15 12.3h-12.3zM252.7 131.6l6.15 12.3h-12.3zM253.3 131.4l6.15 12.3h-12.3zM254.0 131.3l6.15 12.3h-12.3zM254.5 131.5l6.15 12.3h-12.3zM255.1 131.6l6.15 12.3h-12.3zM255.6 131.4l6.15 12.3h-12.3zM255.8 131.4l6.15 12.3h-12.3zM255.8 131.3l6.15 12.3h-12.3zM257.1 131.5l6.15 12.3h-12.3zM256.9 131.4l6.15 12.3h-12.3zM257.4 131.3l6.15 12.3h-12.3zM258.1 131.2l6.15 12.3h-12.3zM258.5 131.5l6.15 12.3h-12.3zM259.1 131.4l6.15 12.3h-12.3zM259.6 131.3l6.15 12.3h-12.3zM260.7 131.5l6.15 12.3h-12.3zM261.2 131.3l6.15 12.3h-12.3zM261.8 131.3l6.15 12.3h-12.3zM262.3 131.2l6.15 12.3h-12.3zM263.0 131.2l6.15 12.3h-12.3zM263.2 131.4l6.15 12.3h-12.3zM263.8 131.2l6.15 12.3h-12.3zM264.4 131.3l6.15 12.3h-12.3zM264.7 130.8l6.15 12.3h-12.3zM265.0 131.3l6.15 12.3h-12.3zM266.3 131.2l6.15 12.3h-12.3zM266.6 131.2l6.15 12.3h-12.3zM267.1 131.4l6.15 12.3h-12.3zM268.1 131.2l6.15 12.3h-12.3zM268.2 131.3l6.15 12.3h-12.3zM269.0 131.1l6.15 12.3h-12.3zM270.0 131.1l6.15 12.3h-12.3zM270.7 131.3l6.15 12.3h-12.3zM270.9 131.5l6.15 12.3h-12.3zM271.6 131.1l6.15 12.3h-12.3zM271.6 131.2l6.15 12.3h-12.3zM272.2 131.0l6.15 12.3h-12.3zM272.9 130.9l6.15 12.3h-12.3zM273.9 131.5l6.15 12.3h-12.3zM273.9 131.0l6.15 12.3h-12.3zM274.6 131.0l6.15 12.3h-12.3zM275.4 131.1l6.15 12.3h-12.3zM275.9 131.1l6.15 12.3h-12.3zM276.0 131.0l6.15 12.3h-12.3zM277.2 131.2l6.15 12.3h-12.3zM277.1 131.0l6.15 12.3h-12.3zM277.9 131.0l6.15 12.3h-12.3zM278.1 131.1l6.15 12.3h-12.3zM278.7 131.0l6.15 12.3h-12.3zM279.4 130.9l6.15 12.3h-12.3zM279.9 130.7l6.15 12.3h-12.3zM280.4 131.0l6.15 12.3h-12.3zM280.6 130.8l6.15 12.3h-12.3zM281.5 130.7l6.15 12.3h-12.3zM282.4 130.9l6.15 12.3h-12.3zM283.2 130.8l6.15 12.3h-12.3zM284.0 130.9l6.15 12.3h-12.3zM284.2 130.9l6.15 12.3h-12.3zM285.1 130.7l6.15 12.3h-12.3zM286.5 130.8l6.15 12.3h-12.3zM286.3 130.4l6.15 12.3h-12.3zM286.6 131.0l6.15 12.3h-12.3zM287.1 130.7l6.15 12.3h-12.3zM287.9 130.7l6.15 12.3h-12.3zM288.3 130.7l6.15 12.3h-12.3zM289.9 130.8l6.15 12.3h-12.3zM290.2 130.8l6.15 12.3h-12.3zM290.6 130.7l6.15 12.3h-12.3zM290.7 130.7l6.15 12.3h-12.3zM291.1 130.4l6.15 12.3h-12.3zM291.4 130.6l6.15 12.3h-12.3zM292.0 130.7l6.15 12.3h-12.3zM292.8 130.8l6.15 12.3h-12.3zM293.2 130.7l6.15 12.3h-12.3zM294.2 130.7l6.15 12.3h-12.3zM294.5 130.4l6.15 12.3h-12.3zM295.2 130.3l6.15 12.3h-12.3zM296.1 130.5l6.15 12.3h-12.3zM295.8 130.4l6.15 12.3h-12.3zM297.1 130.4l6.15 12.3h-12.3zM297.4 130.5l6.15 12.3h-12.3zM298.2 130.4l6.15 12.3h-12.3zM298.6 130.6l6.15 12.3h-12.3zM299.0 130.4l6.15 12.3h-12.3zM299.7 130.5l6.15 12.3h-12.3zM300.0 130.4l6.15 12.3h-12.3zM300.4 130.1l6.15 12.3h-12.3zM301.2 130.2l6.15 12.3h-12.3zM301.3 130.7l6.15 12.3h-12.3zM302.2 130.1l6.15 12.3h-12.3zM302.5 130.6l6.15 12.3h-12.3zM302.7 130.3l6.15 12.3h-12.3zM303.7 130.0l6.15 12.3h-12.3zM304.9 130.0l6.15 12.3h-12.3zM305.0 130.6l6.15 12.3h-12.3zM305.5 130.4l6.15 12.3h-12.3zM306.0 130.3l6.15 12.3h-12.3zM306.3 130.5l6.15 12.3h-12.3zM307.3 130.2l6.15 12.3h-12.3zM307.7 130.1l6.15 12.3h-12.3zM308.8 130.3l6.15 12.3h-12.3zM309.4 130.2l6.15 12.3h-12.3zM309.7 130.0l6.15 12.3h-12.3zM310.4 130.1l6.15 12.3h-12.3zM311.1 130.0l6.15 12.3h-12.3zM311.4 129.9l6.15 12.3h-12.3zM312.2 130.0l6.15 12.3h-12.3zM312.4 130.0l6.15 12.3h-12.3zM312.9 129.9l6.15 12.3h-12.3zM313.9 130.3l6.15 12.3h-12.3zM314.4 130.3l6.15 12.3h-12.3zM315.4 130.1l6.15 12.3h-12.3zM316.4 130.0l6.15 12.3h-12.3zM316.7 129.9l6.15 12.3h-12.3zM316.1 130.1l6.15 12.3h-12.3zM317.6 130.1l6.15 12.3h-12.3zM317.9 130.1l6.15 12.3h-12.3zM318.4 130.1l6.15 12.3h-12.3zM318.8 129.9l6.15 12.3h-12.3zM319.5 129.9l6.15 12.3h-12.3zM320.1 129.6l6.15 12.3h-12.3zM320.7 129.8l6.15 12.3h-12.3zM322.2 129.5l6.15 12.3h-12.3zM322.5 129.9l6.15 12.3h-12.3zM322.6 129.9l6.15 12.3h-12.3zM323.8 129.6l6.15 12.3h-12.3zM324.3 129.9l6.15 12.3h-12.3zM324.9 129.6l6.15 12.3h-12.3zM325.9 129.7l6.15 12.3h-12.3zM326.5 129.3l6.15 12.3h-12.3zM327.5 129.7l6.15 12.3h-12.3zM327.7 129.3l6.15 12.3h-12.3zM328.9 130.0l6.15 12.3h-12.3zM329.0 129.7l6.15 12.3h-12.3zM329.7 130.1l6.15 12.3h-12.3zM331.1 129.6l6.15 12.3h-12.3zM331.9 129.8l6.15 12.3h-12.3zM332.4 129.8l6.15 12.3h-12.3zM333.7 129.5l6.15 12.3h-12.3zM334.1 129.8l6.15 12.3h-12.3zM335.2 129.5l6.15 12.3h-12.3zM336.2 129.5l6.15 12.3h-12.3zM337.2 129.9l6.15 12.3h-12.3zM337.9 129.5l6.15 12.3h-12.3zM339.0 128.9l6.15 12.3h-12.3zM339.4 129.1l6.15 12.3h-12.3zM340.6 129.5l6.15 12.3h-12.3zM341.2 129.4l6.15 12.3h-12.3zM341.9 129.1l6.15 12.3h-12.3zM342.7 128.9l6.15 12.3h-12.3zM343.6 128.9l6.15 12.3h-12.3zM344.4 129.3l6.15 12.3h-12.3zM345.5 129.4l6.15 12.3h-12.3zM346.4 128.8l6.15 12.3h-12.3zM347.2 129.1l6.15 12.3h-12.3zM348.1 128.6l6.15 12.3h-12.3zM348.8 129.1l6.15 12.3h-12.3zM349.6 128.8l6.15 12.3h-12.3zM350.4 128.8l6.15 12.3h-12.3zM351.2 129.5l6.15 12.3h-12.3zM353.0 128.7l6.15 12.3h-12.3zM352.8 128.6l6.15 12.3h-12.3zM354.1 128.6l6.15 12.3h-12.3zM354.7 129.0l6.15 12.3h-12.3zM356.1 128.4l6.15 12.3h-12.3zM356.9 128.8l6.15 12.3h-12.3zM357.1 128.5l6.15 12.3h-12.3zM358.1 128.6l6.15 12.3h-12.3zM359.4 128.8l6.15 12.3h-12.3zM360.6 129.0l6.15 12.3h-12.3zM360.6 128.4l6.15 12.3h-12.3zM361.9 128.8l6.15 12.3h-12.3zM363.1 128.9l6.15 12.3h-12.3zM363.4 128.1l6.15 12.3h-12.3zM364.5 128.6l6.15 12.3h-12.3zM365.4 128.4l6.15 12.3h-12.3zM367.1 128.5l6.15 12.3h-12.3zM368.2 128.4l6.15 12.3h-12.3zM369.8 128.5l6.15 12.3h-12.3zM370.3 129.2l6.15 12.3h-12.3zM371.9 128.7l6.15 12.3h-12.3zM372.0 128.9l6.15 12.3h-12.3zM372.9 129.1l6.15 12.3h-12.3zM373.8 128.9l6.15 12.3h-12.3zM375.5 128.3l6.15 12.3h-12.3zM376.7 129.2l6.15 12.3h-12.3zM377.7 128.5l6.15 12.3h-12.3zM378.6 129.0l6.15 12.3h-12.3zM379.5 128.9l6.15 12.3h-12.3zM380.8 128.3l6.15 12.3h-12.3zM381.8 128.3l6.15 12.3h-12.3zM382.4 129.1l6.15 12.3h-12.3zM382.4 128.0l6.15 12.3h-12.3zM384.0 128.7l6.15 12.3h-12.3zM385.1 128.6l6.15 12.3h-12.3zM386.2 128.3l6.15 12.3h-12.3zM387.4 128.2l6.15 12.3h-12.3zM388.4 127.9l6.15 12.3h-12.3zM389.6 128.8l6.15 12.3h-12.3zM390.6 127.9l6.15 12.3h-12.3zM391.8 128.3l6.15 12.3h-12.3zM393.1 128.8l6.15 12.3h-12.3zM394.3 127.6l6.15 12.3h-12.3zM395.8 128.9l6.15 12.3h-12.3zM397.3 128.2l6.15 12.3h-12.3zM398.2 128.7l6.15 12.3h-12.3zM399.4 128.2l6.15 12.3h-12.3zM400.3 128.0l6.15 12.3h-12.3zM401.8 128.3l6.15 12.3h-12.3zM403.6 128.3l6.15 12.3h-12.3zM404.5 128.0l6.15 12.3h-12.3zM406.4 127.5l6.15 12.3h-12.3zM406.8 127.8l6.15 12.3h-12.3zM408.6 128.5l6.15 12.3h-12.3zM410.1 128.6l6.15 12.3h-12.3zM411.6 128.3l6.15 12.3h-12.3zM413.0 128.1l6.15 12.3h-12.3zM414.4 127.9l6.15 12.3h-12.3zM415.8 127.4l6.15 12.3h-12.3zM417.5 126.9l6.15 12.3h-12.3zM418.6 127.4l6.15 12.3h-12.3zM419.6 128.7l6.15 12.3h-12.3zM421.8 128.0l6.15 12.3h-12.3zM422.6 128.4l6.15 12.3h-12.3zM424.1 128.5l6.15 12.3h-12.3zM425.8 128.1l6.15 12.3h-12.3zM427.5 128.1l6.15 12.3h-12.3zM428.1 127.6l6.15 12.3h-12.3zM429.7 127.6l6.15 12.3h-12.3zM430.6 128.4l6.15 12.3h-12.3zM432.1 127.7l6.15 12.3h-12.3zM432.8 128.2l6.15 12.3h-12.3zM435.3 128.5l6.15 12.3h-12.3zM435.9 128.0l6.15 12.3h-12.3zM437.9 128.3l6.15 12.3h-12.3zM438.4 128.4l6.15 12.3h-12.3zM440.4 128.3l6.15 12.3h-12.3zM442.3 127.6l6.15 12.3h-12.3zM444.6 127.2l6.15 12.3h-12.3zM445.1 128.0l6.15 12.3h-12.3zM446.7 126.9l6.15 12.3h-12.3zM447.9 127.8l6.15 12.3h-12.3zM449.6 128.6l6.15 12.3h-12.3zM451.8 127.7l6.15 12.3h-12.3zM453.4 128.1l6.15 12.3h-12.3zM454.8 127.8l6.15 12.3h-12.3zM455.8 127.0l6.15 12.3h-12.3zM457.6 127.6l6.15 12.3h-12.3zM458.3 127.3l6.15 12.3h-12.3zM459.0 126.7l6.15 12.3h-12.3zM460.5 127.3l6.15 12.3h-12.3zM462.3 126.5l6.15 12.3h-12.3zM463.7 126.8l6.15 12.3h-12.3zM465.3 127.2l6.15 12.3h-12.3zM466.9 128.3l6.15 12.3h-12.3zM468.0 127.4l6.15 12.3h-12.3zM469.7 126.8l6.15 12.3h-12.3zM470.5 126.7l6.15 12.3h-12.3zM472.9 127.6l6.15 12.3h-12.3zM474.9 127.6l6.15 12.3h-12.3zM477.0 126.5l6.15 12.3h-12.3zM479.0 126.5l6.15 12.3h-12.3zM480.4 126.9l6.15 12.3h-12.3zM482.3 125.8l6.15 12.3h-12.3zM484.5 127.0l6.15 12.3h-12.3zM486.1 127.9l6.15 12.3h-12.3zM487.3 126.9l6.15 12.3h-12.3zM488.7 127.3l6.15 12.3h-12.3zM491.0 126.6l6.15 12.3h-12.3zM492.1 126.8l6.15 12.3h-12.3zM494.5 126.8l6.15 12.3h-12.3zM496.4 126.4l6.15 12.3h-12.3zM497.6 126.9l6.15 12.3h-12.3zM498.9 126.8l6.15 12.3h-12.3zM500.0 126.7l6.15 12.3h-12.3zM502.1 126.0l6.15 12.3h-12.3zM504.2 127.7l6.15 12.3h-12.3zM506.5 126.8l6.15 12.3h-12.3zM507.9 126.8l6.15 12.3h-12.3zM509.5 127.2l6.15 12.3h-12.3zM511.4 126.2l6.15 12.3h-12.3zM512.6 126.3l6.15 12.3h-12.3zM513.9 126.7l6.15 12.3h-12.3zM515.2 127.5l6.15 12.3h-12.3zM518.4 126.9l6.15 12.3h-12.3zM519.2 124.9l6.15 12.3h-12.3zM520.9 127.3l6.15 12.3h-12.3zM522.9 126.2l6.15 12.3h-12.3zM523.2 126.3l6.15 12.3h-12.3zM525.6 126.3l6.15 12.3h-12.3zM527.3 126.6l6.15 12.3h-12.3zM529.7 126.7l6.15 12.3h-12.3zM531.4 125.4l6.15 12.3h-12.3zM533.4 126.1l6.15 12.3h-12.3zM535.0 126.0l6.15 12.3h-12.3zM536.1 127.2l6.15 12.3h-12.3zM537.7 125.3l6.15 12.3h-12.3zM539.5 125.5l6.15 12.3h-12.3zM542.5 125.8l6.15 12.3h-12.3zM544.0 125.2l6.15 12.3h-12.3zM546.6 127.2l6.15 12.3h-12.3zM549.1 126.2l6.15 12.3h-12.3zM550.4 125.2l6.15 12.3h-12.3zM553.5 125.6l6.15 12.3h-12.3zM556.3 125.8l6.15 12.3h-12.3zM558.4 125.4l6.15 12.3h-12.3zM560.0 125.6l6.15 12.3h-12.3zM561.2 124.7l6.15 12.3h-12.3zM562.8 125.7l6.15 12.3h-12.3zM564.9 125.9l6.15 12.3h-12.3zM566.7 125.1l6.15 12.3h-12.3zM567.8 124.8l6.15 12.3h-12.3zM569.6 125.1l6.15 12.3h-12.3zM572.2 125.2l6.15 12.3h-12.3zM574.6 125.5l6.15 12.3h-12.3zM576.5 125.6l6.15 12.3h-12.3zM577.6 124.4l6.15 12.3h-12.3zM580.1 125.7l6.15 12.3h-12.3zM583.1 125.5l6.15 12.3h-12.3zM584.2 125.2l6.15 12.3h-12.3zM586.4 124.6l6.15 12.3h-12.3zM588.5 125.0l6.15 12.3h-12.3zM590.5 124.1l6.15 12.3h-12.3zM593.6 125.1l6.15 12.3h-12.3zM596.6 124.3l6.15 12.3h-12.3zM599.0 125.0l6.15 12.3h-12.3zM600.2 125.7l6.15 12.3h-12.3zM602.2 125.5l6.15 12.3h-12.3zM604.5 124.9l6.15 12.3h-12.3zM606.5 124.6l6.15 12.3h-12.3zM608.0 124.0l6.15 12.3h-12.3zM609.6 123.4l6.15 12.3h-12.3zM611.3 125.0l6.15 12.3h-12.3zM613.3 125.3l6.15 12.3h-12.3zM615.3 123.8l6.15 12.3h-12.3zM617.3 125.1l6.15 12.3h-12.3zM620.5 123.7l6.15 12.3h-12.3zM623.5 124.2l6.15 12.3h-12.3zM625.4 124.7l6.15 12.3h-12.3zM628.6 123.7l6.15 12.3h-12.3zM629.9 125.0l6.15 12.3h-12.3zM632.4 125.0l6.15 12.3h-12.3zM634.7 124.5l6.15 12.3h-12.3zM637.6 123.6l6.15 12.3h-12.3zM639.2 124.2l6.15 12.3h-12.3zM641.3 123.8l6.15 12.3h-12.3zM643.8 123.5l6.15 12.3h-12.3zM646.1 124.2l6.15 12.3h-12.3zM647.5 124.3l6.15 12.3h-12.3zM650.8 123.0l6.15 12.3h-12.3zM653.4 124.7l6.15 12.3h-12.3zM656.9 123.3l6.15 12.3h-12.3zM659.1 123.3l6.15 12.3h-12.3zM661.7 124.6l6.15 12.3h-12.3zM664.0 123.5l6.15 12.3h-12.3zM668.0 123.8l6.15 12.3h-12.3zM669.5 122.2l6.15 12.3h-12.3zM672.8 123.7l6.15 12.3h-12.3zM675.8 123.1l6.15 12.3h-12.3zM678.1 122.7l6.15 12.3h-12.3zM681.7 123.0l6.15 12.3h-12.3zM685.8 122.0l6.15 12.3h-12.3zM688.1 123.1l6.15 12.3h-12.3zM689.6 123.8l6.15 12.3h-12.3zM693.1 123.1l6.15 12.3h-12.3zM695.8 123.7l6.15 12.3h-12.3zM697.6 122.9l6.15 12.3h-12.3zM700.9 122.2l6.15 12.3h-12.3zM703.2 122.1l6.15 12.3h-12.3zM705.5 121.6l6.15 12.3h-12.3zM709.3 122.6l6.15 12.3h-12.3zM712.5 122.2l6.15 12.3h-12.3zM714.2 122.5l6.15 12.3h-12.3zM716.1 122.5l6.15 12.3h-12.3zM719.9 121.9l6.15 12.3h-12.3zM721.2 122.5l6.15 12.3h-12.3zM725.1 122.4l6.15 12.3h-12.3zM727.3 122.6l6.15 12.3h-12.3zM730.4 122.5l6.15 12.3h-12.3zM733.3 122.1l6.15 12.3h-12.3zM737.1 122.2l6.15 12.3h-12.3zM741.5 123.6l6.15 12.3h-12.3zM743.4 121.8l6.15 12.3h-12.3zM747.5 121.9l6.15 12.3h-12.3zM749.3 121.1l6.15 12.3h-12.3zM751.8 122.2l6.15 12.3h-12.3zM754.4 121.7l6.15 12.3h-12.3zM756.2 122.1l6.15 12.3h-12.3zM760.5 121.7l6.15 12.3h-12.3zM761.9 121.8l6.15 12.3h-12.3zM766.1 120.0l6.15 12.3h-12.3zM768.7 122.7l6.15 12.3h-12.3zM771.5 121.0l6.15 12.3h-12.3zM775.4 121.8l6.15 12.3h-12.3zM778.0 120.9l6.15 12.3h-12.3zM779.9 121.4l6.15 12.3h-12.3zM782.3 121.3l6.15 12.3h-12.3zM784.5 122.2l6.15 12.3h-12.3zM787.2 120.9l6.15 12.3h-12.3zM789.9 119.1l6.15 12.3h-12.3zM792.6 120.0l6.15 12.3h-12.3zM796.9 122.0l6.15 12.3h-12.3zM800.6 121.4l6.15 12.3h-12.3zM803.2 118.7l6.15 12.3h-12.3zM805.7 121.3l6.15 12.3h-12.3zM808.0 120.0l6.15 12.3h-12.3zM811.3 118.5l6.15 12.3h-12.3zM813.6 119.8l6.15 12.3h-12.3zM817.7 119.9l6.15 12.3h-12.3zM820.9 119.5l6.15 12.3h-12.3zM823.1 119.0l6.15 12.3h-12.3zM825.7 120.6l6.15 12.3h-12.3zM827.9 119.7l6.15 12.3h-12.3zM831.2 119.6l6.15 12.3h-12.3zM834.0 120.5l6.15 12.3h-12.3zM837.2 118.5l6.15 12.3h-12.3zM840.1 118.4l6.15 12.3h-12.3zM843.7 118.0l6.15 12.3h-12.3zM847.6 116.1l6.15 12.3h-12.3zM851.5 116.8l6.15 12.3h-12.3zM853.8 115.7l6.15 12.3h-12.3zM856.4 114.5l6.15 12.3h-12.3zM861.1 116.4l6.15 12.3h-12.3zM864.0 115.7l6.15 12.3h-12.3zM868.8 115.5l6.15 12.3h-12.3zM872.5 115.2l6.15 12.3h-12.3zM874.9 116.4l6.15 12.3h-12.3zM878.2 113.2l6.15 12.3h-12.3zM881.2 113.3l6.15 12.3h-12.3zM885.1 114.4l6.15 12.3h-12.3zM887.5 115.6l6.15 12.3h-12.3zM891.2 116.5l6.15 12.3h-12.3zM894.5 114.8l6.15 12.3h-12.3zM898.5 115.3l6.15 12.3h-12.3zM901.1 115.9l6.15 12.3h-12.3zM904.3 114.1l6.15 12.3h-12.3zM909.5 115.4l6.15 12.3h-12.3zM912.8 113.9l6.15 12.3h-12.3zM916.0 114.2l6.15 12.3h-12.3zM919.6 115.1l6.15 12.3h-12.3zM923.0 114.7l6.15 12.3h-12.3zM926.5 114.5l6.15 12.3h-12.3zM930.2 114.8l6.15 12.3h-12.3zM933.8 114.4l6.15 12.3h-12.3zM937.6 113.8l6.15 12.3h-12.3z" fill="none" stroke="#ff7f0e" stroke-width="2.0" stroke-miterlimit="10"/><path d="M175.9 214.1l6.15 12.3h-12.3zM176.2 213.8l6.15 12.3h-12.3zM176.7 213.8l6.15 12.3h-12.3zM177.6 213.5l6.15 12.3h-12.3zM177.5 213.3l6.15 12.3h-12.3zM178.3 213.3l6.15 12.3h-12.3zM178.7 212.9l6.15 12.3h-12.3zM178.7 213.1l6.15 12.3h-12.3zM179.3 213.1l6.15 12.3h-12.3zM179.5 212.6l6.15 12.3h-12.3zM180.2 212.5l6.15 12.3h-12.3zM180.5 212.8l6.15 12.3h-12.3zM181.0 212.0l6.15 12.3h-12.3zM181.8 212.0l6.15 12.3h-12.3zM182.0 211.8l6.15 12.3h-12.3zM182.7 211.3l6.15 12.3h-12.3zM183.1 211.3l6.15 12.3h-12.3zM183.6 211.2l6.15 12.3h-12.3zM183.8 210.9l6.15 12.3h-12.3zM183.7 210.9l6.15 12.3h-12.3zM184.6 210.9l6.15 12.3h-12.3zM185.3 210.4l6.15 12.3h-12.3zM185.8 210.6l6.15 12.3h-12.3zM185.8 210.4l6.15 12.3h-12.3zM186.5 210.1l6.15 12.3h-12.3zM187.0 209.9l6.15 12.3h-12.3zM187.1 209.9l6.15 12.3h-12.3zM187.9 209.8l6.15 12.3h-12.3zM188.3 209.5l6.15 12.3h-12.3zM189.0 209.1l6.15 12.3h-12.3zM189.0 208.8l6.15 12.3h-12.3zM189.9 209.0l6.15 12.3h-12.3zM190.0 208.8l6.15 12.3h-12.3zM191.2 208.4l6.15 12.3h-12.3zM191.2 208.5l6.15 12.3h-12.3zM191.8 208.0l6.15 12.3h-12.3zM191.8 207.6l6.15 12.3h-12.3zM192.5 208.0l6.15 12.3h-12.3zM193.0 207.5l6.15 12.3h-12.3zM193.3 207.1l6.15 12.3h-12.3zM193.1 207.1l6.15 12.3h-12.3zM194.7 207.1l6.15 12.3h-12.3zM194.7 206.6l6.15 12.3h-12.3zM194.4 206.8l6.15 12.3h-12.3zM195.0 206.4l6.15 12.3h-12.3zM196.0 206.3l6.15 12.3h-12.3zM196.3 206.0l6.15 12.3h-12.3zM196.8 205.5l6.15 12.3h-12.3zM197.1 205.7l6.15 12.3h-12.3zM198.2 205.5l6.15 12.3h-12.3zM198.5 205.0l6.15 12.3h-12.3zM198.9 205.1l6.15 12.3h-12.3zM199.7 204.8l6.15 12.3h-12.3zM199.9 204.5l6.15 12.3h-12.3zM200.0 204.4l6.15 12.3h-12.3zM200.7 203.9l6.15 12.3h-12.3zM200.8 204.0l6.15 12.3h-12.3zM201.2 203.9l6.15 12.3h-12.3zM201.8 203.5l6.15 12.3h-12.3zM202.3 203.4l6.15 12.3h-12.3zM202.9 202.9l6.15 12.3h-12.3zM203.2 202.7l6.15 12.3h-12.3zM203.3 202.7l6.15 12.3h-12.3zM203.5 202.2l6.15 12.3h-12.3zM204.5 202.2l6.15 12.3h-12.3zM204.9 201.8l6.15 12.3h-12.3zM205.4 201.6l6.15 12.3h-12.3zM205.9 201.3l6.15 12.3h-12.3zM206.5 201.4l6.15 12.3h-12.3zM206.7 200.9l6.15 12.3h-12.3zM207.0 200.8l6.15 12.3h-12.3zM207.9 200.4l6.15 12.3h-12.3zM208.2 199.9l6.15 12.3h-12.3zM208.7 200.1l6.15 12.3h-12.3zM209.0 199.7l6.15 12.3h-12.3zM209.3 199.5l6.15 12.3h-12.3zM210.1 199.2l6.15 12.3h-12.3zM210.7 198.9l6.15 12.3h-12.3zM211.1 198.9l6.15 12.3h-12.3zM211.2 198.5l6.15 12.3h-12.3zM212.3 198.3l6.15 12.3h-12.3zM212.4 197.7l6.15 12.3h-12.3zM212.9 197.8l6.15 12.3h-12.3zM213.3 197.7l6.15 12.3h-12.3zM213.8 197.3l6.15 12.3h-12.3zM214.4 197.3l6.15 12.3h-12.3zM214.1 196.9l6.15 12.3h-12.3zM215.0 196.4l6.15 12.3h-12.3zM215.2 196.4l6.15 12.3h-12.3zM216.0 196.1l6.15 12.3h-12.3zM216.5 195.8l6.15 12.3h-12.3zM217.2 195.8l6.15 12.3h-12.3zM217.1 195.5l6.15 12.3h-12.3zM217.8 195.3l6.15 12.3h-12.3zM218.5 195.1l6.15 12.3h-12.3zM218.3 194.8l6.15 12.3h-12.3zM218.7 194.7l6.15 12.3h-12.3zM219.0 194.2l6.15 12.3h-12.3zM219.7 194.2l6.15 12.3h-12.3zM220.4 194.1l6.15 12.3h-12.3zM220.5 193.9l6.15 12.3h-12.3zM221.3 193.5l6.15 12.3h-12.3zM221.5 193.2l6.15 12.3h-12.3zM222.2 192.9l6.15 12.3h-12.3zM223.1 192.9l6.15 12.3h-12.3zM223.2 192.4l6.15 12.3h-12.3zM223.9 192.1l6.15 12.3h-12.3zM224.5 191.7l6.15 12.3h-12.3zM225.4 191.7l6.15 12.3h-12.3zM225.4 191.4l6.15 12.3h-12.3zM225.8 191.5l6.15 12.3h-12.3zM226.6 191.0l6.15 12.3h-12.3zM227.0 190.9l6.15 12.3h-12.3zM226.8 190.7l6.15 12.3h-12.3zM228.2 190.4l6.15 12.3h-12.3zM227.9 190.1l6.15 12.3h-12.3zM228.9 189.9l6.15 12.3h-12.3zM229.0 189.6l6.15 12.3h-12.3zM229.3 189.3l6.15 12.3h-12.3zM229.8 189.2l6.15 12.3h-12.3zM230.5 189.2l6.15 12.3h-12.3zM231.6 189.0l6.15 12.3h-12.3zM231.5 188.5l6.15 12.3h-12.3zM232.3 188.2l6.15 12.3h-12.3zM232.0 188.1l6.15 12.3h-12.3zM233.2 188.1l6.15 12.3h-12.3zM232.9 188.1l6.15 12.3h-12.3zM233.6 188.0l6.15 12.3h-12.3zM234.0 187.6l6.15 12.3h-12.3zM234.3 187.5l6.15 12.3h-12.3zM234.7 187.2l6.15 12.3h-12.3zM235.0 187.3l6.15 12.3h-12.3zM235.3 186.5l6.15 12.3h-12.3zM236.2 186.5l6.15 12.3h-12.3zM236.2 186.5l6.15 12.3h-12.3zM236.8 186.3l6.15 12.3h-12.3zM237.5 186.0l6.15 12.3h-12.3zM238.4 185.9l6.15 12.3h-12.3zM238.0 185.5l6.15 12.3h-12.3zM238.6 185.5l6.15 12.3h-12.3zM239.4 185.3l6.15 12.3h-12.3zM239.7 184.8l6.15 12.3h-12.3zM240.3 184.5l6.15 12.3h-12.3zM241.0 184.3l6.15 12.3h-12.3zM241.6 184.4l6.15 12.3h-12.3zM241.8 184.2l6.15 12.3h-12.3zM242.3 183.8l6.15 12.3h-12.3zM242.7 183.8l6.15 12.3h-12.3zM243.0 183.6l6.15 12.3h-12.3zM243.4 183.2l6.15 12.3h-12.3zM243.9 183.0l6.15 12.3h-12.3zM244.3 183.0l6.15 12.3h-12.3zM244.8 182.5l6.15 12.3h-12.3zM245.0 182.5l6.15 12.3h-12.3zM245.5 182.2l6.15 12.3h-12.3zM245.8 182.3l6.15 12.3h-12.3zM246.5 182.3l6.15 12.3h-12.3zM246.6 181.7l6.15 12.3h-12.3zM247.2 181.6l6.15 12.3h-12.3zM247.8 181.4l6.15 12.3h-12.3zM248.1 181.3l6.15 12.3h-12.3zM248.2 181.0l6.15 12.3h-12.3zM248.9 180.9l6.15 12.3h-12.3zM249.9 180.6l6.15 12.3h-12.3zM249.8 180.4l6.15 12.3h-12.3zM250.5 180.5l6.15 12.3h-12.3zM250.8 180.2l6.15 12.3h-12.3zM251.0 179.9l6.15 12.3h-12.3zM251.6 179.9l6.15 12.3h-12.3zM251.2 179.9l6.15 12.3h-12.3zM252.5 179.5l6.15 12.3h-12.3zM252.7 179.1l6.15 12.3h-12.3zM253.0 179.2l6.15 12.3h-12.3zM253.2 178.9l6.15 12.3h-12.3zM253.9 178.5l6.15 12.3h-12.3zM254.9 178.2l6.15 12.3h-12.3zM255.5 178.4l6.15 12.3h-12.3zM255.5 177.9l6.15 12.3h-12.3zM256.0 178.0l6.15 12.3h-12.3zM256.5 177.8l6.15 12.3h-12.3zM256.4 177.4l6.15 12.3h-12.3zM257.1 177.5l6.15 12.3h-12.3zM257.9 177.5l6.15 12.3h-12.3zM258.0 177.2l6.15 12.3h-12.3zM258.1 177.0l6.15 12.3h-12.3zM259.0 177.0l6.15 12.3h-12.3zM259.2 176.6l6.15 12.3h-12.3zM260.1 176.2l6.15 12.3h-12.3zM260.4 176.4l6.15 12.3h-12.3zM260.3 176.4l6.15 12.3h-12.3zM261.3 176.0l6.15 12.3h-12.3zM261.8 175.9l6.15 12.3h-12.3zM261.5 175.8l6.15 12.3h-12.3zM262.3 175.5l6.15 12.3h-12.3zM263.4 175.0l6.15 12.3h-12.3zM263.1 175.3l6.15 12.3h-12.3zM264.0 174.9l6.15 12.3h-12.3zM264.4 174.8l6.15 12.3h-12.3zM264.1 174.8l6.15 12.3h-12.3zM264.6 174.8l6.15 12.3h-12.3zM264.6 174.3l6.15 12.3h-12.3zM265.6 174.3l6.15 12.3h-12.3zM266.1 174.1l6.15 12.3h-12.3zM265.9 174.4l6.15 12.3h-12.3zM266.6 174.1l6.15 12.3h-12.3zM266.9 173.8l6.15 12.3h-12.3zM267.8 173.5l6.15 12.3h-12.3zM268.1 173.6l6.15 12.3h-12.3zM268.3 173.1l6.15 12.3h-12.3zM269.3 173.3l6.15 12.3h-12.3zM270.0 172.8l6.15 12.3h-12.3zM269.7 172.8l6.15 12.3h-12.3zM270.8 172.5l6.15 12.3h-12.3zM270.3 172.6l6.15 12.3h-12.3zM271.3 172.2l6.15 12.3h-12.3zM271.9 172.2l6.15 12.3h-12.3zM272.2 172.0l6.15 12.3h-12.3zM272.8 172.0l6.15 12.3h-12.3zM272.7 171.5l6.15 12.3h-12.3zM273.4 171.8l6.15 12.3h-12.3zM274.2 171.5l6.15 12.3h-12.3zM274.7 171.3l6.15 12.3h-12.3zM274.8 171.0l6.15 12.3h-12.3zM275.7 171.0l6.15 12.3h-12.3zM276.2 171.0l6.15 12.3h-12.3zM276.5 170.2l6.15 12.3h-12.3zM276.7 170.3l6.15 12.3h-12.3zM277.8 170.2l6.15 12.3h-12.3zM278.3 170.2l6.15 12.3h-12.3zM278.2 170.0l6.15 12.3h-12.3zM278.9 170.2l6.15 12.3h-12.3zM279.2 169.8l6.15 12.3h-12.3zM279.8 170.0l6.15 12.3h-12.3zM279.8 169.7l6.15 12.3h-12.3zM280.2 169.8l6.15 12.3h-12.3zM281.0 169.6l6.15 12.3h-12.3zM281.3 169.4l6.15 12.3h-12.3zM281.8 169.5l6.15 12.3h-12.3zM282.3 169.5l6.15 12.3h-12.3zM282.5 169.2l6.15 12.3h-12.3zM283.4 169.1l6.15 12.3h-12.3zM283.4 168.8l6.15 12.3h-12.3zM284.0 169.0l6.15 12.3h-12.3zM284.4 168.7l6.15 12.3h-12.3zM285.3 168.6l6.15 12.3h-12.3zM285.2 168.6l6.15 12.3h-12.3zM285.7 168.5l6.15 12.3h-12.3zM286.2 168.4l6.15 12.3h-12.3zM286.9 168.4l6.15 12.3h-12.3zM287.4 168.2l6.15 12.3h-12.3zM287.6 168.2l6.15 12.3h-12.3zM288.4 168.0l6.15 12.3h-12.3zM288.7 167.9l6.15 12.3h-12.3zM289.1 168.0l6.15 12.3h-12.3zM289.5 167.9l6.15 12.3h-12.3zM290.2 167.9l6.15 12.3h-12.3zM290.7 167.6l6.15 12.3h-12.3zM291.0 167.5l6.15 12.3h-12.3zM291.3 167.4l6.15 12.3h-12.3zM292.1 167.5l6.15 12.3h-12.3zM292.2 167.1l6.15 12.3h-12.3zM292.9 167.2l6.15 12.3h-12.3zM293.2 167.1l6.15 12.3h-12.3zM293.5 166.8l6.15 12.3h-12.3zM294.6 166.7l6.15 12.3h-12.3zM295.1 166.8l6.15 12.3h-12.3zM295.0 166.8l6.15 12.3h-12.3zM295.5 166.9l6.15 12.3h-12.3zM296.2 166.7l6.15 12.3h-12.3zM296.5 166.4l6.15 12.3h-12.3zM296.8 166.4l6.15 12.3h-12.3zM297.1 166.3l6.15 12.3h-12.3zM297.2 166.3l6.15 12.3h-12.3zM297.7 166.3l6.15 12.3h-12.3zM298.6 166.4l6.15 12.3h-12.3zM299.0 166.1l6.15 12.3h-12.3zM299.2 166.0l6.15 12.3h-12.3zM299.9 166.1l6.15 12.3h-12.3zM300.5 165.8l6.15 12.3h-12.3zM300.6 165.9l6.15 12.3h-12.3zM301.5 166.0l6.15 12.3h-12.3zM301.8 165.6l6.15 12.3h-12.3zM302.5 165.8l6.15 12.3h-12.3zM302.8 165.7l6.15 12.3h-12.3zM303.6 165.4l6.15 12.3h-12.3zM303.4 165.6l6.15 12.3h-12.3zM304.3 165.4l6.15 12.3h-12.3zM304.3 165.2l6.15 12.3h-12.3zM305.0 165.1l6.15 12.3h-12.3zM305.4 165.6l6.15 12.3h-12.3zM306.0 165.0l6.15 12.3h-12.3zM306.6 165.3l6.15 12.3h-12.3zM306.9 165.5l6.15 12.3h-12.3zM307.6 164.9l6.15 12.3h-12.3zM307.9 165.2l6.15 12.3h-12.3zM308.4 165.0l6.15 12.3h-12.3zM309.4 165.0l6.15 12.3h-12.3zM309.8 164.9l6.15 12.3h-12.3zM310.2 164.7l6.15 12.3h-12.3zM310.6 164.7l6.15 12.3h-12.3zM311.0 164.3l6.15 12.3h-12.3zM311.8 164.5l6.15 12.3h-12.3zM312.4 164.4l6.15 12.3h-12.3zM313.9 164.6l6.15 12.3h-12.3zM313.5 164.4l6.15 12.3h-12.3zM314.6 164.3l6.15 12.3h-12.3zM314.9 164.2l6.15 12.3h-12.3zM315.7 164.0l6.15 12.3h-12.3zM316.2 164.1l6.15 12.3h-12.3zM317.2 164.2l6.15 12.3h-12.3zM317.3 164.3l6.15 12.3h-12.3zM318.1 163.8l6.15 12.3h-12.3zM318.4 163.9l6.15 12.3h-12.3zM319.5 163.4l6.15 12.3h-12.3zM320.3 164.0l6.15 12.3h-12.3zM320.6 163.5l6.15 12.3h-12.3zM321.4 163.9l6.15 12.3h-12.3zM321.9 163.7l6.15 12.3h-12.3zM322.3 164.0l6.15 12.3h-12.3zM322.8 164.0l6.15 12.3h-12.3zM323.3 163.0l6.15 12.3h-12.3zM324.1 164.0l6.15 12.3h-12.3zM325.0 163.0l6.15 12.3h-12.3zM325.4 163.3l6.15 12.3h-12.3zM326.4 163.5l6.15 12.3h-12.3zM327.0 163.3l6.15 12.3h-12.3zM327.5 163.6l6.15 12.3h-12.3zM328.1 163.0l6.15 12.3h-12.3zM328.5 163.3l6.15 12.3h-12.3zM329.0 163.1l6.15 12.3h-12.3zM329.6 163.1l6.15 12.3h-12.3zM329.9 163.2l6.15 12.3h-12.3zM330.4 163.1l6.15 12.3h-12.3zM330.8 163.0l6.15 12.3h-12.3zM331.8 162.7l6.15 12.3h-12.3zM332.6 163.2l6.15 12.3h-12.3zM332.7 163.0l6.15 12.3h-12.3zM333.8 162.7l6.15 12.3h-12.3zM334.4 162.7l6.15 12.3h-12.3zM334.8 162.4l6.15 12.3h-12.3zM335.7 162.3l6.15 12.3h-12.3zM336.1 162.3l6.15 12.3h-12.3zM336.5 162.5l6.15 12.3h-12.3zM337.4 162.8l6.15 12.3h-12.3zM338.4 162.0l6.15 12.3h-12.3zM338.9 162.1l6.15 12.3h-12.3zM339.8 161.5l6.15 12.3h-12.3zM340.1 162.5l6.15 12.3h-12.3zM340.9 161.8l6.15 12.3h-12.3zM341.3 162.1l6.15 12.3h-12.3zM342.5 162.1l6.15 12.3h-12.3zM343.0 161.9l6.15 12.3h-12.3zM343.7 162.0l6.15 12.3h-12.3zM344.2 161.7l6.15 12.3h-12.3zM344.9 161.8l6.15 12.3h-12.3zM344.9 161.7l6.15 12.3h-12.3zM346.2 161.2l6.15 12.3h-12.3zM347.1 161.3l6.15 12.3h-12.3zM347.1 161.2l6.15 12.3h-12.3zM347.8 161.2l6.15 12.3h-12.3zM348.1 161.5l6.15 12.3h-12.3zM349.1 161.3l6.15 12.3h-12.3zM349.1 161.4l6.15 12.3h-12.3zM350.6 161.2l6.15 12.3h-12.3zM350.7 161.6l6.15 12.3h-12.3zM352.2 161.4l6.15 12.3h-12.3zM352.6 160.9l6.15 12.3h-12.3zM353.6 162.4l6.15 12.3h-12.3zM353.9 160.8l6.15 12.3h-12.3zM354.5 160.8l6.15 12.3h-12.3zM355.6 161.4l6.15 12.3h-12.3zM356.6 160.7l6.15 12.3h-12.3zM357.0 161.0l6.15 12.3h-12.3zM358.4 160.9l6.15 12.3h-12.3zM359.4 160.2l6.15 12.3h-12.3zM360.3 161.1l6.15 12.3h-12.3zM360.6 161.0l6.15 12.3h-12.3zM361.3 160.4l6.15 12.3h-12.3zM362.9 160.1l6.15 12.3h-12.3zM363.3 161.1l6.15 12.3h-12.3zM363.8 160.2l6.15 12.3h-12.3zM364.7 159.9l6.15 12.3h-12.3zM365.1 159.9l6.15 12.3h-12.3zM365.9 159.8l6.15 12.3h-12.3zM367.1 160.3l6.15 12.3h-12.3zM367.8 160.2l6.15 12.3h-12.3zM368.5 160.1l6.15 12.3h-12.3zM370.0 159.7l6.15 12.3h-12.3zM370.7 159.9l6.15 12.3h-12.3zM371.3 159.1l6.15 12.3h-12.3zM372.7 159.7l6.15 12.3h-12.3zM372.8 159.2l6.15 12.3h-12.3zM373.5 159.3l6.15 12.3h-12.3zM374.2 159.5l6.15 12.3h-12.3zM375.3 158.9l6.15 12.3h-12.3zM376.3 158.9l6.15 12.3h-12.3zM377.2 159.5l6.15 12.3h-12.3zM378.1 158.9l6.15 12.3h-12.3zM378.4 158.5l6.15 12.3h-12.3zM379.3 159.2l6.15 12.3h-12.3zM380.4 158.9l6.15 12.3h-12.3zM381.8 158.4l6.15 12.3h-12.3zM382.5 159.2l6.15 12.3h-12.3zM383.2 158.3l6.15 12.3h-12.3zM384.7 158.4l6.15 12.3h-12.3zM385.0 158.6l6.15 12.3h-12.3zM385.9 158.1l6.15 12.3h-12.3zM387.1 158.4l6.15 12.3h-12.3zM388.3 157.8l6.15 12.3h-12.3zM388.9 158.3l6.15 12.3h-12.3zM389.8 157.8l6.15 12.3h-12.3zM390.8 157.9l6.15 12.3h-12.3zM390.9 157.5l6.15 12.3h-12.3zM392.2 157.3l6.15 12.3h-12.3zM393.6 157.0l6.15 12.3h-12.3zM394.9 157.5l6.15 12.3h-12.3zM395.4 157.3l6.15 12.3h-12.3zM395.6 156.9l6.15 12.3h-12.3zM397.2 157.7l6.15 12.3h-12.3zM397.8 156.7l6.15 12.3h-12.3zM399.5 156.7l6.15 12.3h-12.3zM400.4 156.3l6.15 12.3h-12.3zM401.0 156.0l6.15 12.3h-12.3zM401.9 156.0l6.15 12.3h-12.3zM403.3 156.6l6.15 12.3h-12.3zM404.4 157.1l6.15 12.3h-12.3zM405.8 155.5l6.15 12.3h-12.3zM406.8 156.1l6.15 12.3h-12.3zM407.7 156.1l6.15 12.3h-12.3zM409.2 155.5l6.15 12.3h-12.3zM410.2 155.2l6.15 12.3h-12.3zM412.0 155.7l6.15 12.3h-12.3zM412.3 155.7l6.15 12.3h-12.3zM413.9 156.3l6.15 12.3h-12.3zM414.6 155.0l6.15 12.3h-12.3zM415.3 154.9l6.15 12.3h-12.3zM417.0 155.3l6.15 12.3h-12.3zM417.8 155.4l6.15 12.3h-12.3zM419.6 154.0l6.15 12.3h-12.3zM420.6 154.2l6.15 12.3h-12.3zM421.8 154.8l6.15 12.3h-12.3zM423.5 154.4l6.15 12.3h-12.3zM424.5 154.4l6.15 12.3h-12.3zM426.0 153.7l6.15 12.3h-12.3zM427.0 154.1l6.15 12.3h-12.3zM427.7 153.8l6.15 12.3h-12.3zM429.5 153.3l6.15 12.3h-12.3zM430.8 153.7l6.15 12.3h-12.3zM431.2 152.8l6.15 12.3h-12.3zM432.8 153.5l6.15 12.3h-12.3zM434.1 152.9l6.15 12.3h-12.3zM435.3 152.9l6.15 12.3h-12.3zM436.3 151.7l6.15 12.3h-12.3zM437.8 152.4l6.15 12.3h-12.3zM439.6 152.2l6.15 12.3h-12.3zM441.1 152.2l6.15 12.3h-12.3zM442.2 151.9l6.15 12.3h-12.3zM443.4 151.4l6.15 12.3h-12.3zM444.6 151.7l6.15 12.3h-12.3zM445.7 151.6l6.15 12.3h-12.3zM446.6 151.1l6.15 12.3h-12.3zM447.3 152.0l6.15 12.3h-12.3zM448.9 151.7l6.15 12.3h-12.3zM450.4 151.3l6.15 12.3h-12.3zM452.1 149.8l6.15 12.3h-12.3zM453.1 151.1l6.15 12.3h-12.3zM454.0 151.5l6.15 12.3h-12.3zM455.2 149.3l6.15 12.3h-12.3zM457.4 150.0l6.15 12.3h-12.3zM458.1 150.9l6.15 12.3h-12.3zM459.7 150.0l6.15 12.3h-12.3zM460.8 149.8l6.15 12.3h-12.3zM462.3 149.7l6.15 12.3h-12.3zM463.4 149.2l6.15 12.3h-12.3zM464.6 149.7l6.15 12.3h-12.3zM466.2 149.8l6.15 12.3h-12.3zM466.9 149.5l6.15 12.3h-12.3zM468.6 149.0l6.15 12.3h-12.3zM469.8 148.9l6.15 12.3h-12.3zM471.4 148.5l6.15 12.3h-12.3zM473.2 148.9l6.15 12.3h-12.3zM475.3 149.1l6.15 12.3h-12.3zM476.2 148.2l6.15 12.3h-12.3zM477.8 148.6l6.15 12.3h-12.3zM479.3 147.8l6.15 12.3h-12.3zM480.4 147.8l6.15 12.3h-12.3zM481.9 147.5l6.15 12.3h-12.3zM483.0 146.7l6.15 12.3h-12.3zM483.8 147.3l6.15 12.3h-12.3zM484.9 146.8l6.15 12.3h-12.3zM486.3 146.3l6.15 12.3h-12.3zM487.8 147.9l6.15 12.3h-12.3zM489.7 146.9l6.15 12.3h-12.3zM491.6 147.5l6.15 12.3h-12.3zM493.3 147.1l6.15 12.3h-12.3zM494.5 146.8l6.15 12.3h-12.3zM495.2 146.7l6.15 12.3h-12.3zM496.3 147.4l6.15 12.3h-12.3zM497.3 146.2l6.15 12.3h-12.3zM498.6 146.3l6.15 12.3h-12.3zM499.9 145.2l6.15 12.3h-12.3zM501.3 145.8l6.15 12.3h-12.3zM502.8 145.1l6.15 12.3h-12.3zM504.1 145.2l6.15 12.3h-12.3zM504.9 144.4l6.15 12.3h-12.3zM506.8 145.6l6.15 12.3h-12.3zM508.0 144.8l6.15 12.3h-12.3zM509.1 145.1l6.15 12.3h-12.3zM510.8 144.5l6.15 12.3h-12.3zM512.7 144.6l6.15 12.3h-12.3zM513.9 144.4l6.15 12.3h-12.3zM514.8 144.1l6.15 12.3h-12.3zM516.4 144.9l6.15 12.3h-12.3zM517.6 144.1l6.15 12.3h-12.3zM519.0 142.9l6.15 12.3h-12.3zM520.8 143.3l6.15 12.3h-12.3zM522.8 143.4l6.15 12.3h-12.3zM524.0 144.0l6.15 12.3h-12.3zM525.5 144.4l6.15 12.3h-12.3zM526.9 143.9l6.15 12.3h-12.3zM528.9 143.6l6.15 12.3h-12.3zM531.2 143.2l6.15 12.3h-12.3zM531.7 143.1l6.15 12.3h-12.3zM533.5 143.0l6.15 12.3h-12.3zM535.7 142.2l6.15 12.3h-12.3zM537.4 142.2l6.15 12.3h-12.3zM539.4 142.6l6.15 12.3h-12.3zM541.5 142.7l6.15 12.3h-12.3zM543.0 142.6l6.15 12.3h-12.3zM544.8 142.5l6.15 12.3h-12.3zM545.8 141.3l6.15 12.3h-12.3zM548.3 141.3l6.15 12.3h-12.3zM550.3 142.0l6.15 12.3h-12.3zM551.3 141.6l6.15 12.3h-12.3zM553.5 141.9l6.15 12.3h-12.3zM555.0 141.2l6.15 12.3h-12.3zM557.1 141.0l6.15 12.3h-12.3zM558.9 141.0l6.15 12.3h-12.3zM559.6 141.3l6.15 12.3h-12.3zM561.6 140.8l6.15 12.3h-12.3zM562.8 139.6l6.15 12.3h-12.3zM565.2 141.4l6.15 12.3h-12.3zM567.1 141.3l6.15 12.3h-12.3zM569.3 139.9l6.15 12.3h-12.3zM570.7 139.6l6.15 12.3h-12.3zM572.1 140.9l6.15 12.3h-12.3zM574.6 141.0l6.15 12.3h-12.3zM576.1 140.0l6.15 12.3h-12.3zM577.5 139.3l6.15 12.3h-12.3zM578.6 140.0l6.15 12.3h-12.3zM581.0 140.3l6.15 12.3h-12.3zM583.6 139.8l6.15 12.3h-12.3zM585.5 139.5l6.15 12.3h-12.3zM588.4 139.7l6.15 12.3h-12.3zM589.3 139.3l6.15 12.3h-12.3zM591.4 139.3l6.15 12.3h-12.3zM594.2 139.4l6.15 12.3h-12.3zM596.1 140.2l6.15 12.3h-12.3zM599.0 139.8l6.15 12.3h-12.3zM600.7 138.9l6.15 12.3h-12.3zM602.8 138.3l6.15 12.3h-12.3zM604.2 139.1l6.15 12.3h-12.3zM605.2 138.9l6.15 12.3h-12.3zM608.8 138.0l6.15 12.3h-12.3zM611.1 137.4l6.15 12.3h-12.3zM613.1 137.2l6.15 12.3h-12.3zM614.9 138.0l6.15 12.3h-12.3zM617.5 138.1l6.15 12.3h-12.3zM618.9 138.0l6.15 12.3h-12.3zM621.4 137.5l6.15 12.3h-12.3zM623.2 137.2l6.15 12.3h-12.3zM624.8 138.6l6.15 12.3h-12.3zM626.9 138.0l6.15 12.3h-12.3zM629.2 137.5l6.15 12.3h-12.3zM630.2 137.2l6.15 12.3h-12.3zM631.5 137.5l6.15 12.3h-12.3zM633.9 138.5l6.15 12.3h-12.3zM635.2 139.3l6.15 12.3h-12.3zM636.5 138.3l6.15 12.3h-12.3zM639.2 137.7l6.15 12.3h-12.3zM641.3 137.4l6.15 12.3h-12.3zM642.5 137.3l6.15 12.3h-12.3zM645.0 138.0l6.15 12.3h-12.3zM647.1 138.3l6.15 12.3h-12.3zM649.9 136.9l6.15 12.3h-12.3zM652.0 136.6l6.15 12.3h-12.3zM653.2 137.2l6.15 12.3h-12.3zM655.5 136.9l6.15 12.3h-12.3zM658.4 136.3l6.15 12.3h-12.3zM659.6 136.4l6.15 12.3h-12.3zM661.6 137.0l6.15 12.3h-12.3zM663.5 137.4l6.15 12.3h-12.3zM664.9 138.1l6.15 12.3h-12.3zM666.4 136.1l6.15 12.3h-12.3zM668.8 136.8l6.15 12.3h-12.3zM671.3 135.2l6.15 12.3h-12.3zM673.7 137.6l6.15 12.3h-12.3zM675.2 137.2l6.15 12.3h-12.3zM678.6 136.6l6.15 12.3h-12.3zM681.7 136.9l6.15 12.3h-12.3zM684.0 136.5l6.15 12.3h-12.3zM685.5 136.5l6.15 12.3h-12.3zM687.8 137.1l6.15 12.3h-12.3zM690.4 137.1l6.15 12.3h-12.3zM693.7 136.0l6.15 12.3h-12.3zM697.3 136.1l6.15 12.3h-12.3zM698.9 136.2l6.15 12.3h-12.3zM700.5 135.2l6.15 12.3h-12.3zM702.4 136.6l6.15 12.3h-12.3zM705.4 136.2l6.15 12.3h-12.3zM707.0 136.6l6.15 12.3h-12.3zM709.9 137.3l6.15 12.3h-12.3zM713.5 136.6l6.15 12.3h-12.3zM715.1 135.2l6.15 12.3h-12.3zM718.2 136.9l6.15 12.3h-12.3zM719.7 136.1l6.15 12.3h-12.3zM722.9 136.5l6.15 12.3h-12.3zM725.0 136.6l6.15 12.3h-12.3zM726.6 136.3l6.15 12.3h-12.3zM728.1 137.5l6.15 12.3h-12.3zM731.2 137.3l6.15 12.3h-12.3zM733.4 135.6l6.15 12.3h-12.3zM735.3 135.5l6.15 12.3h-12.3zM738.7 136.8l6.15 12.3h-12.3zM741.4 135.7l6.15 12.3h-12.3zM743.6 135.5l6.15 12.3h-12.3zM746.9 135.3l6.15 12.3h-12.3zM748.8 136.4l6.15 12.3h-12.3zM750.1 136.3l6.15 12.3h-12.3zM753.6 134.7l6.15 12.3h-12.3zM756.2 136.2l6.15 12.3h-12.3zM758.0 136.5l6.15 12.3h-12.3zM760.8 135.2l6.15 12.3h-12.3zM763.0 135.3l6.15 12.3h-12.3zM765.2 134.5l6.15 12.3h-12.3zM767.0 135.3l6.15 12.3h-12.3zM769.4 136.3l6.15 12.3h-12.3zM773.0 134.7l6.15 12.3h-12.3zM775.9 136.1l6.15 12.3h-12.3zM777.8 135.3l6.15 12.3h-12.3zM779.1 134.9l6.15 12.3h-12.3zM782.7 136.2l6.15 12.3h-12.3zM785.0 134.9l6.15 12.3h-12.3zM787.3 135.5l6.15 12.3h-12.3zM789.8 135.6l6.15 12.3h-12.3zM792.5 136.2l6.15 12.3h-12.3zM794.6 134.8l6.15 12.3h-12.3zM797.4 135.5l6.15 12.3h-12.3zM799.5 135.0l6.15 12.3h-12.3zM802.1 135.0l6.15 12.3h-12.3zM805.0 136.7l6.15 12.3h-12.3zM807.4 136.0l6.15 12.3h-12.3zM809.9 136.8l6.15 12.3h-12.3zM812.0 133.1l6.15 12.3h-12.3zM814.2 134.9l6.15 12.3h-12.3zM817.4 135.0l6.15 12.3h-12.3zM818.6 134.8l6.15 12.3h-12.3zM822.3 135.6l6.15 12.3h-12.3zM823.8 134.8l6.15 12.3h-12.3zM826.6 135.8l6.15 12.3h-12.3zM830.3 135.0l6.15 12.3h-12.3zM832.8 134.5l6.15 12.3h-12.3zM834.1 133.3l6.15 12.3h-12.3zM837.0 134.5l6.15 12.3h-12.3zM839.5 133.4l6.15 12.3h-12.3zM842.6 133.3l6.15 12.3h-12.3zM844.6 132.3l6.15 12.3h-12.3zM848.8 132.6l6.15 12.3h-12.3zM849.7 132.4l6.15 12.3h-12.3zM852.5 132.2l6.15 12.3h-12.3zM855.9 130.5l6.15 12.3h-12.3zM858.6 132.2l6.15 12.3h-12.3zM862.1 131.6l6.15 12.3h-12.3zM866.0 131.8l6.15 12.3h-12.3zM869.0 130.6l6.15 12.3h-12.3zM871.3 129.4l6.15 12.3h-12.3zM873.6 129.5l6.15 12.3h-12.3zM877.2 128.7l6.15 12.3h-12.3zM881.7 127.9l6.15 12.3h-12.3zM884.0 128.9l6.15 12.3h-12.3zM887.8 128.6l6.15 12.3h-12.3zM889.7 129.4l6.15 12.3h-12.3zM892.6 127.0l6.15 12.3h-12.3zM895.7 128.9l6.15 12.3h-12.3zM897.7 127.8l6.15 12.3h-12.3zM901.5 128.0l6.15 12.3h-12.3zM905.2 128.9l6.15 12.3h-12.3zM907.3 126.8l6.15 12.3h-12.3zM909.0 127.5l6.15 12.3h-12.3zM912.8 127.7l6.15 12.3h-12.3zM916.3 128.9l6.15 12.3h-12.3zM917.8 128.3l6.15 12.3h-12.3zM921.2 128.0l6.15 12.3h-12.3zM924.1 129.2l6.15 12.3h-12.3zM927.5 128.6l6.15 12.3h-12.3zM929.6 128.6l6.15 12.3h-12.3zM931.4 130.2l6.15 12.3h-12.3zM934.7 128.0l6.15 12.3h-12.3zM936.5 127.3l6.15 12.3h-12.3z" fill="none" stroke="#2ca02c" stroke-width="2.0" stroke-miterlimit="10"/><path d="M195.1 620.6l6.15 12.3h-12.3zM197.1 641.5l6.15 12.3h-12.3zM199.5 659.9l6.15 12.3h-12.3zM201.1 633.2l6.15 12.3h-12.3zM202.3 630.3l6.15 12.3h-12.3zM204.9 615.0l6.15 12.3h-12.3zM206.9 639.7l6.15 12.3h-12.3zM209.1 635.8l6.15 12.3h-12.3zM210.8 631.0l6.15 12.3h-12.3zM212.5 618.6l6.15 12.3h-12.3zM214.8 658.4l6.15 12.3h-12.3zM216.8 644.2l6.15 12.3h-12.3zM218.2 657.0l6.15 12.3h-12.3zM220.3 649.5l6.15 12.3h-12.3zM222.7 628.3l6.15 12.3h-12.3zM225.1 640.0l6.15 12.3h-12.3zM226.6 645.3l6.15 12.3h-12.3zM228.5 635.3l6.15 12.3h-12.3zM230.7 635.0l6.15 12.3h-12.3zM232.5 631.8l6.15 12.3h-12.3zM233.7 631.8l6.15 12.3h-12.3zM236.2 640.0l6.15 12.3h-12.3zM239.0 619.6l6.15 12.3h-12.3zM240.4 613.3l6.15 12.3h-12.3zM241.8 633.8l6.15 12.3h-12.3zM243.2 617.6l6.15 12.3h-12.3zM246.3 640.8l6.15 12.3h-12.3zM248.2 630.2l6.15 12.3h-12.3zM251.3 637.9l6.15 12.3h-12.3zM251.8 660.0l6.15 12.3h-12.3zM254.5 635.4l6.15 12.3h-12.3zM256.7 641.7l6.15 12.3h-12.3zM258.4 642.7l6.15 12.3h-12.3zM259.6 651.5l6.15 12.3h-12.3zM262.1 627.7l6.15 12.3h-12.3zM263.6 651.3l6.15 12.3h-12.3zM265.8 640.4l6.15 12.3h-12.3zM268.3 641.4l6.15 12.3h-12.3zM269.2 647.5l6.15 12.3h-12.3zM272.4 650.2l6.15 12.3h-12.3zM274.7 644.2l6.15 12.3h-12.3zM276.2 658.9l6.15 12.3h-12.3zM277.7 660.7l6.15 12.3h-12.3zM280.7 649.2l6.15 12.3h-12.3zM282.7 650.1l6.15 12.3h-12.3zM283.3 653.5l6.15 12.3h-12.3zM285.9 644.8l6.15 12.3h-12.3zM287.8 656.2l6.15 12.3h-12.3zM289.9 631.5l6.15 12.3h-12.3zM291.9 648.6l6.15 12.3h-12.3zM293.2 634.6l6.15 12.3h-12.3zM295.4 632.6l6.15 12.3h-12.3zM297.7 652.1l6.15 12.3h-12.3zM300.5 654.2l6.15 12.3h-12.3zM302.0 653.6l6.15 12.3h-12.3zM304.1 635.3l6.15 12.3h-12.3zM305.8 643.7l6.15 12.3h-12.3zM307.3 634.4l6.15 12.3h-12.3zM309.1 636.6l6.15 12.3h-12.3zM310.7 646.1l6.15 12.3h-12.3zM313.3 641.1l6.15 12.3h-12.3zM315.5 648.5l6.15 12.3h-12.3zM317.0 638.6l6.15 12.3h-12.3zM318.4 613.2l6.15 12.3h-12.3zM320.2 658.3l6.15 12.3h-12.3zM322.3 645.5l6.15 12.3h-12.3zM325.9 634.4l6.15 12.3h-12.3zM327.9 662.0l6.15 12.3h-12.3zM331.4 631.1l6.15 12.3h-12.3zM333.3 634.6l6.15 12.3h-12.3zM334.4 624.6l6.15 12.3h-12.3zM319.4 648.5l6.15 12.3h-12.3zM319.5 647.6l6.15 12.3h-12.3zM322.3 644.9l6.15 12.3h-12.3zM325.1 643.5l6.15 12.3h-12.3zM328.6 642.0l6.15 12.3h-12.3zM330.5 637.5l6.15 12.3h-12.3zM331.7 635.7l6.15 12.3h-12.3zM335.0 634.8l6.15 12.3h-12.3zM335.9 631.2l6.15 12.3h-12.3zM339.4 629.9l6.15 12.3h-12.3zM340.7 625.6l6.15 12.3h-12.3zM341.8 623.4l6.15 12.3h-12.3zM344.6 620.0l6.15 12.3h-12.3zM344.6 619.3l6.15 12.3h-12.3zM347.4 615.4l6.15 12.3h-12.3zM349.2 611.0l6.15 12.3h-12.3zM352.0 609.0l6.15 12.3h-12.3zM353.1 606.9l6.15 12.3h-12.3zM354.6 604.3l6.15 12.3h-12.3zM354.5 601.8l6.15 12.3h-12.3zM354.4 598.1l6.15 12.3h-12.3zM356.7 593.2l6.15 12.3h-12.3zM357.4 591.2l6.15 12.3h-12.3zM358.0 587.7l6.15 12.3h-12.3zM359.6 584.4l6.15 12.3h-12.3zM361.4 580.8l6.15 12.3h-12.3zM363.1 576.8l6.15 12.3h-12.3zM363.8 575.1l6.15 12.3h-12.3zM365.6 572.9l6.15 12.3h-12.3zM367.3 569.4l6.15 12.3h-12.3zM369.3 567.1l6.15 12.3h-12.3zM367.5 563.8l6.15 12.3h-12.3zM371.3 560.9l6.15 12.3h-12.3zM371.6 556.5l6.15 12.3h-12.3zM372.0 553.4l6.15 12.3h-12.3zM373.5 549.4l6.15 12.3h-12.3zM373.2 547.3l6.15 12.3h-12.3zM375.3 545.1l6.15 12.3h-12.3zM375.3 542.1l6.15 12.3h-12.3zM375.1 539.3l6.15 12.3h-12.3zM377.1 534.6l6.15 12.3h-12.3zM379.1 532.0l6.15 12.3h-12.3zM378.9 527.1l6.15 12.3h-12.3zM380.3 524.5l6.15 12.3h-12.3zM381.9 521.4l6.15 12.3h-12.3zM383.1 517.5l6.15 12.3h-12.3zM384.2 512.6l6.15 12.3h-12.3zM384.4 510.2l6.15 12.3h-12.3zM387.1 506.0l6.15 12.3h-12.3zM388.2 502.7l6.15 12.3h-12.3zM388.9 499.4l6.15 12.3h-12.3zM390.1 494.5l6.15 12.3h-12.3zM391.1 493.2l6.15 12.3h-12.3zM392.0 489.5l6.15 12.3h-12.3zM392.7 486.1l6.15 12.3h-12.3zM393.9 483.7l6.15 12.3h-12.3zM393.5 479.7l6.15 12.3h-12.3zM394.4 476.2l6.15 12.3h-12.3zM394.7 471.6l6.15 12.3h-12.3zM396.1 469.2l6.15 12.3h-12.3zM397.5 465.8l6.15 12.3h-12.3zM398.0 462.1l6.15 12.3h-12.3zM399.7 458.2l6.15 12.3h-12.3zM399.3 454.5l6.15 12.3h-12.3zM399.5 453.2l6.15 12.3h-12.3zM401.0 448.8l6.15 12.3h-12.3zM402.0 444.8l6.15 12.3h-12.3zM402.3 441.2l6.15 12.3h-12.3zM403.1 440.1l6.15 12.3h-12.3zM405.9 435.7l6.15 12.3h-12.3zM405.8 431.9l6.15 12.3h-12.3zM405.5 428.8l6.15 12.3h-12.3zM406.1 425.3l6.15 12.3h-12.3zM407.6 421.4l6.15 12.3h-12.3zM408.9 418.9l6.15 12.3h-12.3zM409.9 414.5l6.15 12.3h-12.3zM410.0 411.8l6.15 12.3h-12.3zM411.3 408.0l6.15 12.3h-12.3zM411.8 405.0l6.15 12.3h-12.3zM413.1 400.6l6.15 12.3h-12.3zM412.7 397.7l6.15 12.3h-12.3zM413.0 394.9l6.15 12.3h-12.3zM415.5 390.8l6.15 12.3h-12.3zM415.6 387.6l6.15 12.3h-12.3zM416.0 384.7l6.15 12.3h-12.3zM417.9 382.1l6.15 12.3h-12.3zM417.7 377.9l6.15 12.3h-12.3zM419.3 375.0l6.15 12.3h-12.3zM420.8 371.1l6.15 12.3h-12.3zM421.0 367.1l6.15 12.3h-12.3zM421.7 364.8l6.15 12.3h-12.3zM422.9 360.0l6.15 12.3h-12.3zM424.1 358.1l6.15 12.3h-12.3zM425.5 353.5l6.15 12.3h-12.3zM426.7 350.4l6.15 12.3h-12.3zM427.8 346.0l6.15 12.3h-12.3zM428.5 342.2l6.15 12.3h-12.3zM429.9 338.2l6.15 12.3h-12.3zM430.7 336.3l6.15 12.3h-12.3zM433.6 333.1l6.15 12.3h-12.3zM433.4 329.4l6.15 12.3h-12.3zM435.9 326.4l6.15 12.3h-12.3zM436.0 322.9l6.15 12.3h-12.3zM436.9 320.6l6.15 12.3h-12.3zM438.2 315.3l6.15 12.3h-12.3zM441.3 312.6l6.15 12.3h-12.3zM442.4 310.0l6.15 12.3h-12.3zM442.9 308.1l6.15 12.3h-12.3zM445.9 303.3l6.15 12.3h-12.3zM446.4 301.4l6.15 12.3h-12.3zM447.5 297.5l6.15 12.3h-12.3zM449.1 295.2l6.15 12.3h-12.3zM450.2 293.1l6.15 12.3h-12.3zM451.1 288.7l6.15 12.3h-12.3zM453.1 286.9l6.15 12.3h-12.3zM454.9 283.6l6.15 12.3h-12.3zM456.1 281.1l6.15 12.3h-12.3zM458.2 277.9l6.15 12.3h-12.3zM459.1 275.1l6.15 12.3h-12.3zM460.6 272.9l6.15 12.3h-12.3zM461.7 271.2l6.15 12.3h-12.3zM463.7 268.5l6.15 12.3h-12.3zM464.5 267.1l6.15 12.3h-12.3zM466.9 261.9l6.15 12.3h-12.3zM468.2 259.6l6.15 12.3h-12.3zM471.6 255.8l6.15 12.3h-12.3zM472.9 253.7l6.15 12.3h-12.3zM475.2 250.9l6.15 12.3h-12.3zM477.2 247.4l6.15 12.3h-12.3zM480.0 244.6l6.15 12.3h-12.3zM481.8 241.1l6.15 12.3h-12.3zM483.9 239.7l6.15 12.3h-12.3zM485.4 236.9l6.15 12.3h-12.3zM487.0 234.8l6.15 12.3h-12.3zM488.5 233.7l6.15 12.3h-12.3zM491.3 231.0l6.15 12.3h-12.3zM493.0 228.6l6.15 12.3h-12.3zM496.7 227.2l6.15 12.3h-12.3zM498.7 223.8l6.15 12.3h-12.3zM500.2 221.5l6.15 12.3h-12.3zM501.4 220.3l6.15 12.3h-12.3zM505.6 217.0l6.15 12.3h-12.3zM508.3 214.4l6.15 12.3h-12.3zM511.4 212.3l6.15 12.3h-12.3zM513.9 210.8l6.15 12.3h-12.3zM517.5 208.6l6.15 12.3h-12.3zM520.1 205.8l6.15 12.3h-12.3zM524.5 204.3l6.15 12.3h-12.3zM526.5 202.4l6.15 12.3h-12.3zM527.9 200.4l6.15 12.3h-12.3zM531.9 197.8l6.15 12.3h-12.3zM536.1 195.9l6.15 12.3h-12.3zM539.6 195.1l6.15 12.3h-12.3zM542.5 194.6l6.15 12.3h-12.3zM545.9 191.8l6.15 12.3h-12.3zM551.4 189.3l6.15 12.3h-12.3zM554.1 189.2l6.15 12.3h-12.3zM556.5 189.2l6.15 12.3h-12.3zM559.9 187.1l6.15 12.3h-12.3zM561.9 185.4l6.15 12.3h-12.3zM564.2 184.4l6.15 12.3h-12.3zM568.7 182.5l6.15 12.3h-12.3zM573.7 182.8l6.15 12.3h-12.3zM576.1 181.8l6.15 12.3h-12.3zM580.1 179.7l6.15 12.3h-12.3zM582.7 179.3l6.15 12.3h-12.3zM585.6 178.8l6.15 12.3h-12.3zM588.9 178.2l6.15 12.3h-12.3zM593.7 175.4l6.15 12.3h-12.3zM597.5 175.1l6.15 12.3h-12.3zM600.7 176.2l6.15 12.3h-12.3zM604.3 176.2l6.15 12.3h-12.3zM606.6 176.2l6.15 12.3h-12.3zM609.8 174.4l6.15 12.3h-12.3zM613.9 174.7l6.15 12.3h-12.3zM616.8 175.9l6.15 12.3h-12.3zM623.1 174.3l6.15 12.3h-12.3zM625.5 174.2l6.15 12.3h-12.3zM629.5 173.0l6.15 12.3h-12.3zM633.0 173.0l6.15 12.3h-12.3zM635.6 173.2l6.15 12.3h-12.3zM639.0 171.6l6.15 12.3h-12.3zM639.6 172.4l6.15 12.3h-12.3zM642.5 172.1l6.15 12.3h-12.3zM645.8 173.7l6.15 12.3h-12.3zM648.5 172.4l6.15 12.3h-12.3zM650.8 172.6l6.15 12.3h-12.3zM654.4 170.7l6.15 12.3h-12.3zM656.4 171.4l6.15 12.3h-12.3zM659.6 169.3l6.15 12.3h-12.3zM662.1 169.6l6.15 12.3h-12.3zM665.9 170.2l6.15 12.3h-12.3zM668.6 167.8l6.15 12.3h-12.3zM671.2 170.0l6.15 12.3h-12.3zM673.0 169.9l6.15 12.3h-12.3zM675.4 169.3l6.15 12.3h-12.3zM678.2 169.4l6.15 12.3h-12.3zM681.8 167.3l6.15 12.3h-12.3zM684.6 168.7l6.15 12.3h-12.3zM687.5 167.6l6.15 12.3h-12.3zM690.0 166.7l6.15 12.3h-12.3zM694.5 166.3l6.15 12.3h-12.3zM696.7 167.5l6.15 12.3h-12.3zM699.9 165.5l6.15 12.3h-12.3zM702.1 168.0l6.15 12.3h-12.3zM705.5 166.7l6.15 12.3h-12.3zM709.4 165.3l6.15 12.3h-12.3zM712.5 165.1l6.15 12.3h-12.3zM716.0 165.6l6.15 12.3h-12.3zM719.7 164.5l6.15 12.3h-12.3zM721.6 164.1l6.15 12.3h-12.3zM725.0 165.5l6.15 12.3h-12.3zM727.0 164.0l6.15 12.3h-12.3zM729.4 164.0l6.15 12.3h-12.3zM731.2 163.9l6.15 12.3h-12.3zM735.1 165.5l6.15 12.3h-12.3zM737.1 164.1l6.15 12.3h-12.3zM741.2 163.9l6.15 12.3h-12.3zM744.5 163.1l6.15 12.3h-12.3zM746.9 164.7l6.15 12.3h-12.3zM749.3 164.7l6.15 12.3h-12.3zM752.3 162.6l6.15 12.3h-12.3zM756.4 163.0l6.15 12.3h-12.3zM760.5 164.1l6.15 12.3h-12.3zM763.9 163.7l6.15 12.3h-12.3zM767.8 163.6l6.15 12.3h-12.3zM770.8 163.3l6.15 12.3h-12.3zM774.6 163.2l6.15 12.3h-12.3zM777.7 162.5l6.15 12.3h-12.3zM780.8 164.0l6.15 12.3h-12.3zM784.3 163.5l6.15 12.3h-12.3zM788.3 163.5l6.15 12.3h-12.3zM792.3 163.2l6.15 12.3h-12.3zM796.9 163.5l6.15 12.3h-12.3zM800.4 162.3l6.15 12.3h-12.3zM802.7 163.1l6.15 12.3h-12.3zM807.1 162.6l6.15 12.3h-12.3zM810.0 161.9l6.15 12.3h-12.3zM813.8 161.6l6.15 12.3h-12.3zM818.0 162.1l6.15 12.3h-12.3zM822.0 161.6l6.15 12.3h-12.3zM824.9 161.8l6.15 12.3h-12.3zM828.5 160.7l6.15 12.3h-12.3zM832.2 162.1l6.15 12.3h-12.3zM836.0 161.9l6.15 12.3h-12.3zM838.0 158.5l6.15 12.3h-12.3zM840.4 159.1l6.15 12.3h-12.3zM843.6 158.3l6.15 12.3h-12.3zM847.4 156.0l6.15 12.3h-12.3zM850.4 157.7l6.15 12.3h-12.3zM855.0 155.1l6.15 12.3h-12.3zM858.1 155.1l6.15 12.3h-12.3zM861.4 156.0l6.15 12.3h-12.3zM865.1 154.4l6.15 12.3h-12.3zM868.3 154.9l6.15 12.3h-12.3zM870.2 154.8l6.15 12.3h-12.3zM874.8 154.2l6.15 12.3h-12.3zM877.6 153.8l6.15 12.3h-12.3zM880.0 153.9l6.15 12.3h-12.3zM883.8 154.3l6.15 12.3h-12.3zM886.9 154.8l6.15 12.3h-12.3zM890.9 153.9l6.15 12.3h-12.3zM895.2 154.4l6.15 12.3h-12.3zM899.3 153.6l6.15 12.3h-12.3zM901.1 153.6l6.15 12.3h-12.3zM906.4 154.9l6.15 12.3h-12.3zM910.2 153.3l6.15 12.3h-12.3zM913.7 154.1l6.15 12.3h-12.3zM915.8 154.0l6.15 12.3h-12.3zM920.1 155.3l6.15 12.3h-12.3zM923.5 152.5l6.15 12.3h-12.3zM926.5 153.4l6.15 12.3h-12.3zM930.0 154.2l6.15 12.3h-12.3zM933.5 153.5l6.15 12.3h-12.3zM937.8 153.9l6.15 12.3h-12.3zM218.0 607.9l6.15 12.3h-12.3zM292.0 611.9l6.15 12.3h-12.3zM245.0 627.9l6.15 12.3h-12.3zM313.0 626.9l6.15 12.3h-12.3zM280.0 630.9l6.15 12.3h-12.3zM230.0 621.9l6.15 12.3h-12.3z" fill="none" stroke="#d62728" stroke-width="2.0" stroke-miterlimit="10"/><path d="M172.2 627.1l6.15 12.3h-12.3zM172.6 654.3l6.15 12.3h-12.3zM172.5 626.1l6.15 12.3h-12.3zM173.3 635.8l6.15 12.3h-12.3zM171.3 636.8l6.15 12.3h-12.3zM173.3 642.1l6.15 12.3h-12.3zM173.8 644.3l6.15 12.3h-12.3zM173.5 621.1l6.15 12.3h-12.3zM173.1 640.3l6.15 12.3h-12.3zM174.2 629.6l6.15 12.3h-12.3zM173.7 642.9l6.15 12.3h-12.3zM173.3 621.4l6.15 12.3h-12.3zM174.3 641.0l6.15 12.3h-12.3zM174.4 618.3l6.15 12.3h-12.3zM174.9 626.9l6.15 12.3h-12.3zM175.4 637.8l6.15 12.3h-12.3zM175.4 644.4l6.15 12.3h-12.3zM175.2 646.1l6.15 12.3h-12.3zM176.3 642.3l6.15 12.3h-12.3zM176.6 633.2l6.15 12.3h-12.3zM176.6 641.1l6.15 12.3h-12.3zM175.8 638.0l6.15 12.3h-12.3zM176.3 633.8l6.15 12.3h-12.3zM176.8 648.2l6.15 12.3h-12.3zM176.8 639.9l6.15 12.3h-12.3zM176.4 639.7l6.15 12.3h-12.3zM177.9 646.0l6.15 12.3h-12.3zM177.8 634.1l6.15 12.3h-12.3zM177.3 637.9l6.15 12.3h-12.3zM177.3 627.8l6.15 12.3h-12.3zM178.6 630.6l6.15 12.3h-12.3zM179.3 626.0l6.15 12.3h-12.3zM178.8 628.3l6.15 12.3h-12.3zM178.9 629.5l6.15 12.3h-12.3zM179.0 637.4l6.15 12.3h-12.3zM179.0 643.3l6.15 12.3h-12.3zM180.1 633.5l6.15 12.3h-12.3zM180.0 639.5l6.15 12.3h-12.3zM179.8 658.3l6.15 12.3h-12.3zM178.9 632.7l6.15 12.3h-12.3zM179.3 636.0l6.15 12.3h-12.3zM180.8 654.8l6.15 12.3h-12.3zM181.5 634.8l6.15 12.3h-12.3zM181.3 653.6l6.15 12.3h-12.3zM181.3 640.6l6.15 12.3h-12.3zM181.7 625.3l6.15 12.3h-12.3zM181.3 641.7l6.15 12.3h-12.3zM182.1 630.6l6.15 12.3h-12.3zM181.9 637.6l6.15 12.3h-12.3zM182.2 644.9l6.15 12.3h-12.3zM182.5 640.2l6.15 12.3h-12.3zM182.0 629.3l6.15 12.3h-12.3zM183.1 624.5l6.15 12.3h-12.3zM183.2 632.8l6.15 12.3h-12.3zM182.9 644.5l6.15 12.3h-12.3zM183.2 631.1l6.15 12.3h-12.3zM183.4 639.2l6.15 12.3h-12.3zM185.3 619.8l6.15 12.3h-12.3zM184.1 636.5l6.15 12.3h-12.3zM184.8 635.4l6.15 12.3h-12.3zM183.3 650.5l6.15 12.3h-12.3zM184.2 638.1l6.15 12.3h-12.3zM184.3 628.9l6.15 12.3h-12.3zM184.9 646.3l6.15 12.3h-12.3zM185.8 633.3l6.15 12.3h-12.3zM185.8 635.3l6.15 12.3h-12.3zM185.8 640.0l6.15 12.3h-12.3zM186.3 633.1l6.15 12.3h-12.3zM186.1 640.6l6.15 12.3h-12.3zM186.4 631.5l6.15 12.3h-12.3zM187.4 634.5l6.15 12.3h-12.3zM187.2 640.4l6.15 12.3h-12.3zM187.6 619.1l6.15 12.3h-12.3zM188.2 636.7l6.15 12.3h-12.3zM186.8 639.8l6.15 12.3h-12.3zM188.7 643.1l6.15 12.3h-12.3zM187.2 634.5l6.15 12.3h-12.3zM188.7 626.0l6.15 12.3h-12.3zM188.1 636.0l6.15 12.3h-12.3zM189.5 636.0l6.15 12.3h-12.3zM189.3 632.5l6.15 12.3h-12.3zM188.5 647.6l6.15 12.3h-12.3zM189.4 623.1l6.15 12.3h-12.3zM189.6 644.3l6.15 12.3h-12.3zM189.2 640.5l6.15 12.3h-12.3zM189.8 634.2l6.15 12.3h-12.3zM189.6 632.6l6.15 12.3h-12.3zM190.0 626.7l6.15 12.3h-12.3zM190.3 625.2l6.15 12.3h-12.3zM190.5 637.8l6.15 12.3h-12.3zM190.2 646.2l6.15 12.3h-12.3zM191.9 650.4l6.15 12.3h-12.3zM190.4 649.9l6.15 12.3h-12.3zM191.4 638.1l6.15 12.3h-12.3zM191.2 638.5l6.15 12.3h-12.3zM192.4 643.4l6.15 12.3h-12.3zM191.7 632.6l6.15 12.3h-12.3zM191.9 643.8l6.15 12.3h-12.3zM193.3 629.1l6.15 12.3h-12.3zM192.6 635.1l6.15 12.3h-12.3zM192.4 642.1l6.15 12.3h-12.3zM193.2 625.9l6.15 12.3h-12.3zM192.7 649.2l6.15 12.3h-12.3zM193.5 643.2l6.15 12.3h-12.3zM193.3 635.1l6.15 12.3h-12.3zM194.0 634.1l6.15 12.3h-12.3zM193.4 638.5l6.15 12.3h-12.3zM194.7 629.3l6.15 12.3h-12.3zM194.9 644.8l6.15 12.3h-12.3zM194.2 638.6l6.15 12.3h-12.3zM194.8 644.2l6.15 12.3h-12.3zM195.4 626.9l6.15 12.3h-12.3zM194.6 647.7l6.15 12.3h-12.3zM195.5 642.3l6.15 12.3h-12.3zM195.8 652.2l6.15 12.3h-12.3zM195.3 648.3l6.15 12.3h-12.3zM195.6 645.0l6.15 12.3h-12.3zM196.9 626.2l6.15 12.3h-12.3zM196.7 636.1l6.15 12.3h-12.3zM196.5 638.9l6.15 12.3h-12.3zM196.4 630.0l6.15 12.3h-12.3zM197.4 646.1l6.15 12.3h-12.3zM197.0 625.6l6.15 12.3h-12.3zM198.6 648.3l6.15 12.3h-12.3zM197.9 629.4l6.15 12.3h-12.3zM197.6 640.7l6.15 12.3h-12.3zM197.6 652.8l6.15 12.3h-12.3zM198.4 642.0l6.15 12.3h-12.3zM198.0 630.5l6.15 12.3h-12.3zM198.3 641.0l6.15 12.3h-12.3zM198.8 636.0l6.15 12.3h-12.3zM199.3 640.5l6.15 12.3h-12.3zM200.1 636.8l6.15 12.3h-12.3zM199.1 638.4l6.15 12.3h-12.3zM200.5 633.6l6.15 12.3h-12.3zM200.0 635.4l6.15 12.3h-12.3zM200.4 640.8l6.15 12.3h-12.3zM200.0 636.5l6.15 12.3h-12.3zM201.0 648.3l6.15 12.3h-12.3zM201.2 646.2l6.15 12.3h-12.3zM200.8 635.3l6.15 12.3h-12.3zM201.7 628.2l6.15 12.3h-12.3zM201.4 622.1l6.15 12.3h-12.3zM201.4 632.3l6.15 12.3h-12.3zM201.2 643.7l6.15 12.3h-12.3zM201.7 635.3l6.15 12.3h-12.3zM202.1 632.0l6.15 12.3h-12.3zM203.1 634.2l6.15 12.3h-12.3zM202.7 627.0l6.15 12.3h-12.3zM202.6 635.7l6.15 12.3h-12.3zM202.9 633.4l6.15 12.3h-12.3zM203.3 652.3l6.15 12.3h-12.3zM203.4 637.3l6.15 12.3h-12.3zM203.5 661.0l6.15 12.3h-12.3zM204.7 643.5l6.15 12.3h-12.3zM204.4 632.3l6.15 12.3h-12.3zM204.2 640.4l6.15 12.3h-12.3zM204.5 631.0l6.15 12.3h-12.3zM204.3 643.1l6.15 12.3h-12.3zM205.1 620.0l6.15 12.3h-12.3zM205.2 649.8l6.15 12.3h-12.3zM205.0 640.7l6.15 12.3h-12.3zM204.8 645.9l6.15 12.3h-12.3zM205.2 627.5l6.15 12.3h-12.3zM205.8 659.5l6.15 12.3h-12.3zM205.8 627.4l6.15 12.3h-12.3zM206.6 640.6l6.15 12.3h-12.3zM207.4 627.4l6.15 12.3h-12.3zM206.0 635.8l6.15 12.3h-12.3zM207.1 641.7l6.15 12.3h-12.3zM207.7 625.4l6.15 12.3h-12.3zM207.0 637.4l6.15 12.3h-12.3zM208.0 642.8l6.15 12.3h-12.3zM207.6 629.6l6.15 12.3h-12.3zM208.4 647.0l6.15 12.3h-12.3zM209.5 637.0l6.15 12.3h-12.3zM209.2 627.9l6.15 12.3h-12.3zM208.3 632.6l6.15 12.3h-12.3zM208.6 630.9l6.15 12.3h-12.3zM208.8 638.1l6.15 12.3h-12.3zM209.0 644.4l6.15 12.3h-12.3zM209.4 638.6l6.15 12.3h-12.3zM210.4 641.4l6.15 12.3h-12.3zM209.9 638.4l6.15 12.3h-12.3zM210.1 643.6l6.15 12.3h-12.3zM209.9 648.7l6.15 12.3h-12.3zM211.2 648.8l6.15 12.3h-12.3zM210.4 624.5l6.15 12.3h-12.3zM210.7 639.9l6.15 12.3h-12.3zM211.5 637.0l6.15 12.3h-12.3zM211.1 652.0l6.15 12.3h-12.3zM211.2 648.0l6.15 12.3h-12.3zM212.1 626.9l6.15 12.3h-12.3zM212.0 633.7l6.15 12.3h-12.3zM211.6 622.3l6.15 12.3h-12.3zM211.5 642.2l6.15 12.3h-12.3zM212.3 641.0l6.15 12.3h-12.3zM212.2 635.8l6.15 12.3h-12.3zM212.8 625.0l6.15 12.3h-12.3zM212.3 642.5l6.15 12.3h-12.3zM213.4 630.4l6.15 12.3h-12.3zM213.5 644.4l6.15 12.3h-12.3zM214.6 630.8l6.15 12.3h-12.3zM214.3 657.3l6.15 12.3h-12.3zM214.2 651.5l6.15 12.3h-12.3zM213.1 651.4l6.15 12.3h-12.3zM214.6 622.0l6.15 12.3h-12.3zM215.2 647.8l6.15 12.3h-12.3zM215.6 649.2l6.15 12.3h-12.3zM215.0 638.2l6.15 12.3h-12.3zM216.0 645.2l6.15 12.3h-12.3zM217.6 640.8l6.15 12.3h-12.3zM218.6 654.2l6.15 12.3h-12.3zM222.1 634.3l6.15 12.3h-12.3zM221.9 632.7l6.15 12.3h-12.3zM222.9 650.9l6.15 12.3h-12.3zM224.1 635.3l6.15 12.3h-12.3zM225.7 653.4l6.15 12.3h-12.3zM226.9 642.1l6.15 12.3h-12.3zM228.7 650.2l6.15 12.3h-12.3zM229.7 654.9l6.15 12.3h-12.3zM230.2 647.7l6.15 12.3h-12.3zM231.5 655.6l6.15 12.3h-12.3zM233.5 635.3l6.15 12.3h-12.3zM234.9 634.1l6.15 12.3h-12.3zM236.0 647.6l6.15 12.3h-12.3zM236.2 634.6l6.15 12.3h-12.3zM237.7 645.3l6.15 12.3h-12.3zM238.7 651.1l6.15 12.3h-12.3zM239.6 645.5l6.15 12.3h-12.3zM241.5 627.1l6.15 12.3h-12.3zM242.9 633.1l6.15 12.3h-12.3zM242.7 639.5l6.15 12.3h-12.3zM245.0 654.5l6.15 12.3h-12.3zM246.1 660.1l6.15 12.3h-12.3zM248.2 656.3l6.15 12.3h-12.3zM249.4 649.0l6.15 12.3h-12.3zM249.7 651.9l6.15 12.3h-12.3zM251.6 647.9l6.15 12.3h-12.3zM252.2 630.1l6.15 12.3h-12.3zM253.9 649.0l6.15 12.3h-12.3zM254.1 646.5l6.15 12.3h-12.3zM256.3 644.5l6.15 12.3h-12.3zM257.6 653.0l6.15 12.3h-12.3zM257.6 642.6l6.15 12.3h-12.3zM259.8 654.6l6.15 12.3h-12.3zM261.5 626.6l6.15 12.3h-12.3zM262.0 652.6l6.15 12.3h-12.3zM264.4 652.3l6.15 12.3h-12.3zM267.2 662.8l6.15 12.3h-12.3zM269.9 666.1l6.15 12.3h-12.3zM273.9 659.9l6.15 12.3h-12.3zM275.2 649.6l6.15 12.3h-12.3zM279.5 643.0l6.15 12.3h-12.3zM281.9 654.6l6.15 12.3h-12.3zM285.3 658.1l6.15 12.3h-12.3zM287.9 651.7l6.15 12.3h-12.3zM290.6 654.4l6.15 12.3h-12.3zM293.8 654.0l6.15 12.3h-12.3zM296.8 640.5l6.15 12.3h-12.3zM299.8 654.1l6.15 12.3h-12.3zM302.6 656.3l6.15 12.3h-12.3zM307.5 656.3l6.15 12.3h-12.3zM310.6 657.4l6.15 12.3h-12.3zM312.7 654.0l6.15 12.3h-12.3zM316.2 648.6l6.15 12.3h-12.3zM319.1 641.8l6.15 12.3h-12.3zM322.8 659.5l6.15 12.3h-12.3zM325.9 647.8l6.15 12.3h-12.3zM327.2 658.1l6.15 12.3h-12.3zM329.8 657.6l6.15 12.3h-12.3zM333.2 652.6l6.15 12.3h-12.3zM336.5 656.0l6.15 12.3h-12.3zM340.2 661.2l6.15 12.3h-12.3zM341.5 664.3l6.15 12.3h-12.3zM344.3 656.3l6.15 12.3h-12.3zM344.4 655.0l6.15 12.3h-12.3zM347.4 657.2l6.15 12.3h-12.3zM348.2 657.1l6.15 12.3h-12.3zM351.6 651.8l6.15 12.3h-12.3zM354.2 648.9l6.15 12.3h-12.3zM357.5 657.7l6.15 12.3h-12.3zM358.9 654.3l6.15 12.3h-12.3zM360.8 662.6l6.15 12.3h-12.3zM364.4 655.7l6.15 12.3h-12.3zM366.8 647.2l6.15 12.3h-12.3zM368.0 658.9l6.15 12.3h-12.3zM369.5 653.6l6.15 12.3h-12.3zM372.0 648.4l6.15 12.3h-12.3zM373.1 656.3l6.15 12.3h-12.3zM375.4 650.6l6.15 12.3h-12.3zM377.7 659.0l6.15 12.3h-12.3zM378.8 658.5l6.15 12.3h-12.3zM380.4 653.6l6.15 12.3h-12.3zM383.1 663.0l6.15 12.3h-12.3zM387.9 654.3l6.15 12.3h-12.3zM390.1 649.5l6.15 12.3h-12.3zM391.8 654.3l6.15 12.3h-12.3zM395.3 656.5l6.15 12.3h-12.3zM396.8 658.4l6.15 12.3h-12.3zM398.1 652.5l6.15 12.3h-12.3zM400.4 665.5l6.15 12.3h-12.3zM401.3 660.7l6.15 12.3h-12.3zM404.2 662.1l6.15 12.3h-12.3zM410.2 645.1l6.15 12.3h-12.3zM411.3 663.6l6.15 12.3h-12.3zM413.1 655.1l6.15 12.3h-12.3zM414.6 650.2l6.15 12.3h-12.3zM416.6 665.4l6.15 12.3h-12.3zM418.0 653.9l6.15 12.3h-12.3zM419.9 661.1l6.15 12.3h-12.3zM421.9 660.3l6.15 12.3h-12.3zM423.7 650.8l6.15 12.3h-12.3zM424.1 666.0l6.15 12.3h-12.3zM427.9 650.0l6.15 12.3h-12.3zM428.7 663.5l6.15 12.3h-12.3zM433.2 660.7l6.15 12.3h-12.3zM434.6 664.3l6.15 12.3h-12.3zM441.0 664.2l6.15 12.3h-12.3zM442.1 653.2l6.15 12.3h-12.3zM445.5 657.5l6.15 12.3h-12.3zM447.0 648.4l6.15 12.3h-12.3zM449.5 665.7l6.15 12.3h-12.3zM450.5 664.3l6.15 12.3h-12.3zM454.2 649.5l6.15 12.3h-12.3zM457.9 657.8l6.15 12.3h-12.3zM459.7 662.0l6.15 12.3h-12.3zM461.5 648.6l6.15 12.3h-12.3zM464.7 663.8l6.15 12.3h-12.3zM467.6 658.6l6.15 12.3h-12.3zM468.5 656.7l6.15 12.3h-12.3zM469.9 660.5l6.15 12.3h-12.3zM471.3 644.6l6.15 12.3h-12.3zM474.4 660.2l6.15 12.3h-12.3zM476.1 662.0l6.15 12.3h-12.3zM479.5 651.6l6.15 12.3h-12.3zM481.5 653.5l6.15 12.3h-12.3zM486.1 665.9l6.15 12.3h-12.3zM488.1 664.3l6.15 12.3h-12.3zM489.4 653.9l6.15 12.3h-12.3zM491.8 648.8l6.15 12.3h-12.3zM493.0 666.1l6.15 12.3h-12.3zM494.9 654.1l6.15 12.3h-12.3zM496.5 662.2l6.15 12.3h-12.3zM498.6 662.2l6.15 12.3h-12.3zM502.2 645.8l6.15 12.3h-12.3zM504.2 661.1l6.15 12.3h-12.3zM506.0 648.5l6.15 12.3h-12.3zM508.3 660.8l6.15 12.3h-12.3zM509.5 648.7l6.15 12.3h-12.3zM511.6 660.6l6.15 12.3h-12.3zM513.8 657.8l6.15 12.3h-12.3zM514.3 662.1l6.15 12.3h-12.3zM516.2 664.3l6.15 12.3h-12.3zM518.0 660.1l6.15 12.3h-12.3zM520.2 660.8l6.15 12.3h-12.3zM521.8 654.8l6.15 12.3h-12.3zM523.8 656.6l6.15 12.3h-12.3zM525.7 658.9l6.15 12.3h-12.3zM526.3 660.6l6.15 12.3h-12.3zM529.9 663.4l6.15 12.3h-12.3zM531.3 664.6l6.15 12.3h-12.3zM532.6 650.7l6.15 12.3h-12.3zM536.6 664.4l6.15 12.3h-12.3zM538.4 660.9l6.15 12.3h-12.3zM540.1 661.2l6.15 12.3h-12.3zM172.0 620.9l6.15 12.3h-12.3zM185.0 624.9l6.15 12.3h-12.3zM210.0 617.9l6.15 12.3h-12.3zM237.5 630.9l6.15 12.3h-12.3zM272.5 626.9l6.15 12.3h-12.3zM320.0 624.9l6.15 12.3h-12.3zM342.5 633.4l6.15 12.3h-12.3zM392.0 630.9l6.15 12.3h-12.3zM392.0 641.9l6.15 12.3h-12.3zM470.0 630.9l6.15 12.3h-12.3zM468.0 638.9l6.15 12.3h-12.3zM500.0 638.9l6.15 12.3h-12.3zM424.0 641.9l6.15 12.3h-12.3zM540.7 635.8l6.15 12.3h-12.3zM542.8 637.0l6.15 12.3h-12.3zM543.0 623.1l6.15 12.3h-12.3zM545.9 638.4l6.15 12.3h-12.3zM542.0 630.7l6.15 12.3h-12.3zM544.4 630.6l6.15 12.3h-12.3zM549.9 621.1l6.15 12.3h-12.3zM549.6 620.9l6.15 12.3h-12.3zM555.6 631.9l6.15 12.3h-12.3zM555.4 629.8l6.15 12.3h-12.3zM553.9 623.7l6.15 12.3h-12.3zM553.0 612.2l6.15 12.3h-12.3zM553.8 619.2l6.15 12.3h-12.3zM561.2 620.2l6.15 12.3h-12.3zM561.7 609.6l6.15 12.3h-12.3zM561.6 610.3l6.15 12.3h-12.3zM560.2 611.0l6.15 12.3h-12.3zM563.5 609.5l6.15 12.3h-12.3zM567.1 599.0l6.15 12.3h-12.3zM569.1 608.0l6.15 12.3h-12.3zM578.0 601.3l6.15 12.3h-12.3zM568.7 609.4l6.15 12.3h-12.3zM576.5 594.3l6.15 12.3h-12.3zM574.7 604.3l6.15 12.3h-12.3zM575.8 600.6l6.15 12.3h-12.3zM577.4 601.7l6.15 12.3h-12.3zM584.8 594.0l6.15 12.3h-12.3zM585.5 599.1l6.15 12.3h-12.3zM586.5 599.2l6.15 12.3h-12.3zM589.5 589.3l6.15 12.3h-12.3zM590.2 596.3l6.15 12.3h-12.3zM595.3 598.9l6.15 12.3h-12.3zM596.0 587.3l6.15 12.3h-12.3zM596.6 598.6l6.15 12.3h-12.3zM603.2 588.9l6.15 12.3h-12.3zM610.6 590.6l6.15 12.3h-12.3zM602.0 584.7l6.15 12.3h-12.3zM605.1 581.2l6.15 12.3h-12.3zM607.4 586.9l6.15 12.3h-12.3zM606.9 564.0l6.15 12.3h-12.3zM610.2 570.6l6.15 12.3h-12.3zM609.5 564.9l6.15 12.3h-12.3zM605.3 561.7l6.15 12.3h-12.3zM607.6 566.8l6.15 12.3h-12.3zM608.4 565.3l6.15 12.3h-12.3zM610.1 562.9l6.15 12.3h-12.3zM610.3 559.7l6.15 12.3h-12.3zM611.4 558.0l6.15 12.3h-12.3zM611.8 555.4l6.15 12.3h-12.3zM613.5 551.9l6.15 12.3h-12.3zM614.1 549.4l6.15 12.3h-12.3zM615.0 546.4l6.15 12.3h-12.3zM616.2 543.0l6.15 12.3h-12.3zM617.9 541.3l6.15 12.3h-12.3zM619.1 537.6l6.15 12.3h-12.3zM620.4 533.6l6.15 12.3h-12.3zM620.3 530.0l6.15 12.3h-12.3zM622.1 525.8l6.15 12.3h-12.3zM622.2 524.1l6.15 12.3h-12.3zM623.0 521.0l6.15 12.3h-12.3zM623.8 518.1l6.15 12.3h-12.3zM624.7 515.0l6.15 12.3h-12.3zM625.2 512.1l6.15 12.3h-12.3zM625.3 509.1l6.15 12.3h-12.3zM627.2 505.7l6.15 12.3h-12.3zM627.8 502.2l6.15 12.3h-12.3zM627.7 500.3l6.15 12.3h-12.3zM629.0 498.8l6.15 12.3h-12.3zM629.1 495.9l6.15 12.3h-12.3zM629.9 494.3l6.15 12.3h-12.3zM629.6 491.3l6.15 12.3h-12.3zM630.6 487.7l6.15 12.3h-12.3zM631.0 485.1l6.15 12.3h-12.3zM630.5 482.5l6.15 12.3h-12.3zM633.3 480.3l6.15 12.3h-12.3zM633.6 477.3l6.15 12.3h-12.3zM634.7 473.7l6.15 12.3h-12.3zM635.0 472.9l6.15 12.3h-12.3zM636.4 468.6l6.15 12.3h-12.3zM639.3 465.7l6.15 12.3h-12.3zM639.9 463.4l6.15 12.3h-12.3zM641.0 461.4l6.15 12.3h-12.3zM641.7 458.4l6.15 12.3h-12.3zM643.2 454.6l6.15 12.3h-12.3zM644.6 452.7l6.15 12.3h-12.3zM645.0 449.7l6.15 12.3h-12.3zM646.4 448.1l6.15 12.3h-12.3zM647.9 443.9l6.15 12.3h-12.3zM648.9 441.6l6.15 12.3h-12.3zM649.2 438.5l6.15 12.3h-12.3zM650.9 436.0l6.15 12.3h-12.3zM651.9 433.5l6.15 12.3h-12.3zM652.3 430.0l6.15 12.3h-12.3zM652.4 426.2l6.15 12.3h-12.3zM653.4 422.8l6.15 12.3h-12.3zM654.7 420.2l6.15 12.3h-12.3zM654.9 417.9l6.15 12.3h-12.3zM655.8 414.9l6.15 12.3h-12.3zM657.1 412.0l6.15 12.3h-12.3zM658.1 407.2l6.15 12.3h-12.3zM658.5 405.2l6.15 12.3h-12.3zM660.2 402.1l6.15 12.3h-12.3zM661.3 397.0l6.15 12.3h-12.3zM661.8 393.7l6.15 12.3h-12.3zM662.3 390.8l6.15 12.3h-12.3zM662.6 388.5l6.15 12.3h-12.3zM663.3 385.8l6.15 12.3h-12.3zM664.9 381.4l6.15 12.3h-12.3zM664.6 380.7l6.15 12.3h-12.3zM665.9 377.4l6.15 12.3h-12.3zM668.2 374.0l6.15 12.3h-12.3zM667.2 372.3l6.15 12.3h-12.3zM670.6 368.3l6.15 12.3h-12.3zM669.8 366.3l6.15 12.3h-12.3zM671.7 362.5l6.15 12.3h-12.3zM671.8 359.6l6.15 12.3h-12.3zM673.0 356.5l6.15 12.3h-12.3zM673.8 353.3l6.15 12.3h-12.3zM674.9 350.6l6.15 12.3h-12.3zM675.7 346.4l6.15 12.3h-12.3zM676.4 345.1l6.15 12.3h-12.3zM677.2 342.8l6.15 12.3h-12.3zM678.2 338.9l6.15 12.3h-12.3zM679.7 336.4l6.15 12.3h-12.3zM680.6 333.9l6.15 12.3h-12.3zM681.8 331.4l6.15 12.3h-12.3zM683.0 328.5l6.15 12.3h-12.3zM685.1 323.8l6.15 12.3h-12.3zM685.3 321.7l6.15 12.3h-12.3zM686.9 318.8l6.15 12.3h-12.3zM688.7 317.5l6.15 12.3h-12.3zM687.7 312.8l6.15 12.3h-12.3zM690.4 310.7l6.15 12.3h-12.3zM690.7 308.3l6.15 12.3h-12.3zM691.3 305.8l6.15 12.3h-12.3zM693.8 303.1l6.15 12.3h-12.3zM695.3 300.3l6.15 12.3h-12.3zM696.5 297.5l6.15 12.3h-12.3zM698.6 294.5l6.15 12.3h-12.3zM698.3 290.9l6.15 12.3h-12.3zM702.4 288.3l6.15 12.3h-12.3zM703.2 286.9l6.15 12.3h-12.3zM704.4 282.6l6.15 12.3h-12.3zM705.6 280.6l6.15 12.3h-12.3zM709.6 277.2l6.15 12.3h-12.3zM710.8 274.7l6.15 12.3h-12.3zM711.3 272.5l6.15 12.3h-12.3zM715.4 268.4l6.15 12.3h-12.3zM715.7 266.4l6.15 12.3h-12.3zM718.3 263.6l6.15 12.3h-12.3zM718.8 261.0l6.15 12.3h-12.3zM721.5 260.3l6.15 12.3h-12.3zM722.7 258.2l6.15 12.3h-12.3zM722.3 256.3l6.15 12.3h-12.3zM725.8 252.3l6.15 12.3h-12.3zM727.7 251.7l6.15 12.3h-12.3zM729.2 248.3l6.15 12.3h-12.3zM731.1 244.9l6.15 12.3h-12.3zM733.3 243.0l6.15 12.3h-12.3zM734.8 241.9l6.15 12.3h-12.3zM738.5 238.9l6.15 12.3h-12.3zM739.5 236.7l6.15 12.3h-12.3zM744.0 232.8l6.15 12.3h-12.3zM745.3 232.0l6.15 12.3h-12.3zM747.9 230.5l6.15 12.3h-12.3zM749.6 227.5l6.15 12.3h-12.3zM751.9 228.2l6.15 12.3h-12.3zM755.5 224.3l6.15 12.3h-12.3zM759.2 224.1l6.15 12.3h-12.3zM761.9 222.8l6.15 12.3h-12.3zM764.8 220.7l6.15 12.3h-12.3zM768.3 220.1l6.15 12.3h-12.3zM771.6 219.8l6.15 12.3h-12.3zM774.4 218.7l6.15 12.3h-12.3zM778.6 216.4l6.15 12.3h-12.3zM780.1 217.0l6.15 12.3h-12.3zM784.6 214.4l6.15 12.3h-12.3zM787.9 214.3l6.15 12.3h-12.3zM790.9 213.4l6.15 12.3h-12.3zM794.8 212.1l6.15 12.3h-12.3zM796.8 212.8l6.15 12.3h-12.3zM800.3 212.0l6.15 12.3h-12.3zM804.4 210.5l6.15 12.3h-12.3zM808.7 209.8l6.15 12.3h-12.3zM812.1 207.9l6.15 12.3h-12.3zM816.3 207.7l6.15 12.3h-12.3zM819.1 206.1l6.15 12.3h-12.3zM822.7 205.8l6.15 12.3h-12.3zM825.2 203.1l6.15 12.3h-12.3zM827.7 202.3l6.15 12.3h-12.3zM830.3 202.8l6.15 12.3h-12.3zM835.1 200.4l6.15 12.3h-12.3zM839.8 195.8l6.15 12.3h-12.3zM841.8 196.1l6.15 12.3h-12.3zM845.7 193.5l6.15 12.3h-12.3zM850.2 191.0l6.15 12.3h-12.3zM854.4 188.9l6.15 12.3h-12.3zM858.6 188.3l6.15 12.3h-12.3zM861.9 187.2l6.15 12.3h-12.3zM864.0 187.7l6.15 12.3h-12.3zM867.2 186.4l6.15 12.3h-12.3zM870.2 186.1l6.15 12.3h-12.3zM871.9 186.2l6.15 12.3h-12.3zM876.3 185.7l6.15 12.3h-12.3zM880.1 184.8l6.15 12.3h-12.3zM883.2 184.5l6.15 12.3h-12.3zM887.5 186.7l6.15 12.3h-12.3zM891.2 187.3l6.15 12.3h-12.3zM895.1 186.5l6.15 12.3h-12.3zM897.3 185.4l6.15 12.3h-12.3zM901.6 186.6l6.15 12.3h-12.3zM905.5 186.3l6.15 12.3h-12.3zM907.6 185.6l6.15 12.3h-12.3zM911.4 185.0l6.15 12.3h-12.3zM914.5 183.8l6.15 12.3h-12.3zM919.4 186.3l6.15 12.3h-12.3zM923.1 185.8l6.15 12.3h-12.3zM927.2 185.3l6.15 12.3h-12.3zM929.4 184.9l6.15 12.3h-12.3zM933.8 185.1l6.15 12.3h-12.3zM937.6 185.0l6.15 12.3h-12.3z" fill="none" stroke="#9467bd" stroke-width="2.0" stroke-miterlimit="10"/><path d="M357 692.7 L363.5 662.7 L365.2 654.9 L366.9 647 L368.4 639.1 L370 631.2 L371.4 623.3 L372.9 615.3 L374.2 607.2 L375.6 599.2 L376.9 591.1 L378.2 583 L379.5 574.9 L380.7 566.7 L381.9 558.6 L383.2 550.4 L384.4 542.2 L385.7 534 L386.9 525.8 L388.2 517.6 L389.5 509.4 L390.8 501.2 L392.1 493 L393.5 484.8 L394.9 476.5 L396.3 468.3 L397.8 460.1 L399.4 452 L401 443.8 L402.7 435.6 L404.5 427.5 L406.3 419.4 L408.2 411.3 L410.2 403.2 L412.3 395.2 L414.5 387.1 L416.8 379.2 L419.1 371.2 L421.6 363.3 L424.2 355.4 L427 347.6 L429.8 339.7 L432.8 332 L435.9 324.3 L439.2 316.6 L442.6 309 L446.2 301.4 L449.9 293.9 L453.8 286.5 L457.8 279.3 L462.1 272.1 L466.5 265.1 L471.1 258.3 L475.9 251.7 L480.9 245.4 L486.2 239.2 L491.7 233.3 L497.4 227.7 L503.3 222.4 L509.5 217.5 L515.9 212.8 L522.6 208.4 L529.4 204.4 L536.4 200.6 L543.6 197.1 L551 193.9 L558.5 190.9 L566.2 188.2 L574 185.8 L582 183.6 L590 181.7 L598.1 180 L606.3 178.6 L614.6 177.4 L623 176.4 L631.4 175.6 L639.8 175 L648.3 174.7 L656.8 174.5 L665.3 174.6 L673.7 174.8 L682.2 175.2 L690.6 175.7 L699 176.5 L707.3 177.4 L715.5 178.4 L723.6 179.6 L731.7 181 L739.7 182.5 L747.5 184.1 L755.2 185.8" fill="none" stroke="#000" stroke-width="3.3" stroke-linejoin="round"/><path d="M592.4 692.6 L599.5 662.6 L600.6 657.7 L601.8 652.8 L602.9 647.9 L604 642.9 L605.1 638 L606.1 633 L607.2 628 L608.2 623 L609.2 618 L610.2 613 L611.2 607.9 L612.2 602.9 L613.2 597.8 L614.2 592.8 L615.1 587.7 L616.1 582.6 L617.1 577.5 L618 572.4 L619 567.3 L619.9 562.1 L620.9 557 L621.8 551.9 L622.8 546.8 L623.7 541.6 L624.7 536.5 L625.6 531.3 L626.6 526.2 L627.6 521.1 L628.5 515.9 L629.5 510.8 L630.5 505.6 L631.5 500.5 L632.6 495.3 L633.6 490.2 L634.7 485.1 L635.7 479.9 L636.8 474.8 L637.9 469.7 L639 464.6 L640.2 459.4 L641.3 454.3 L642.5 449.2 L643.7 444.2 L645 439.1 L646.2 434 L647.5 428.9 L648.8 423.9 L650.2 418.9 L651.5 413.8 L652.9 408.8 L654.4 403.8 L655.8 398.8 L657.3 393.9 L658.8 388.9 L660.4 384 L662 379 L663.7 374.1 L665.3 369.2 L667.1 364.4 L668.8 359.5 L670.6 354.7 L672.5 349.9 L674.4 345.1 L676.3 340.3 L678.3 335.6 L680.3 330.8 L682.4 326.1 L684.6 321.5 L686.8 316.8 L689 312.2 L691.4 307.7 L693.8 303.2 L696.3 298.8 L699 294.5 L701.7 290.2 L704.5 286.1 L707.5 282 L710.6 278 L713.8 274.2 L717.2 270.4 L720.7 266.8 L724.4 263.3 L728.2 260 L732.3 256.8 L736.4 253.8 L740.8 250.9 L745.4 248.2 L750.2 245.7 L755.2 243.3" fill="none" stroke="#000" stroke-width="3.3" stroke-linejoin="round"/></g><rect x="128.8" y="47.15" width="805.10" height="615.95" fill="none" stroke="#000" stroke-width="1.7" stroke-linejoin="miter"/><path d="M128.80 663.10v7.3M218.26 663.10v7.3M307.71 663.10v7.3M397.17 663.10v7.3M486.62 663.10v7.3M576.08 663.10v7.3M665.53 663.10v7.3M754.99 663.10v7.3M844.44 663.10v7.3M933.90 663.10v7.3M128.80 549.15h-7.3M128.80 298.15h-7.3M128.80 47.15h-7.3" stroke="#000" stroke-width="1.7"/><path d="M128.80 649.03h-4.2M128.80 624.71h-4.2M128.80 604.83h-4.2M128.80 588.03h-4.2M128.80 573.47h-4.2M128.80 560.64h-4.2M128.80 473.59h-4.2M128.80 429.39h-4.2M128.80 398.03h-4.2M128.80 373.71h-4.2M128.80 353.83h-4.2M128.80 337.03h-4.2M128.80 322.47h-4.2M128.80 309.64h-4.2M128.80 222.59h-4.2M128.80 178.39h-4.2M128.80 147.03h-4.2M128.80 122.71h-4.2M128.80 102.83h-4.2M128.80 86.03h-4.2M128.80 71.47h-4.2M128.80 58.64h-4.2" stroke="#000" stroke-width="1.25"/><path d="M688.7 445.5l6.15 12.3h-12.3z" fill="none" stroke="#1f77b4" stroke-width="2.0"/><path d="M688.7 487.5l6.15 12.3h-12.3z" fill="none" stroke="#ff7f0e" stroke-width="2.0"/><path d="M688.7 529.5l6.15 12.3h-12.3z" fill="none" stroke="#2ca02c" stroke-width="2.0"/><path d="M688.7 571.5l6.15 12.3h-12.3z" fill="none" stroke="#d62728" stroke-width="2.0"/><path d="M688.7 613.5l6.15 12.3h-12.3z" fill="none" stroke="#9467bd" stroke-width="2.0"/><g font-family="Liberation Sans" font-size="29" fill="#000"><text x="128.80" y="700" text-anchor="middle" textLength="17.6" lengthAdjust="spacingAndGlyphs">0</text><text x="218.26" y="700" text-anchor="middle" textLength="35.2" lengthAdjust="spacingAndGlyphs">50</text><text x="307.71" y="700" text-anchor="middle" textLength="52.8" lengthAdjust="spacingAndGlyphs">100</text><text x="397.17" y="700" text-anchor="middle" textLength="52.8" lengthAdjust="spacingAndGlyphs">150</text><text x="486.62" y="700" text-anchor="middle" textLength="52.8" lengthAdjust="spacingAndGlyphs">200</text><text x="576.08" y="700" text-anchor="middle" textLength="52.8" lengthAdjust="spacingAndGlyphs">250</text><text x="665.53" y="700" text-anchor="middle" textLength="52.8" lengthAdjust="spacingAndGlyphs">300</text><text x="754.99" y="700" text-anchor="middle" textLength="52.8" lengthAdjust="spacingAndGlyphs">350</text><text x="844.44" y="700" text-anchor="middle" textLength="52.8" lengthAdjust="spacingAndGlyphs">400</text><text x="933.90" y="700" text-anchor="middle" textLength="52.8" lengthAdjust="spacingAndGlyphs">450</text><text x="64" y="560.15" textLength="35" lengthAdjust="spacingAndGlyphs">10</text><text x="99.5" y="548.15" font-size="20.5" textLength="11.5" lengthAdjust="spacingAndGlyphs">3</text><text x="64" y="309.15" textLength="35" lengthAdjust="spacingAndGlyphs">10</text><text x="99.5" y="297.15" font-size="20.5" textLength="11.5" lengthAdjust="spacingAndGlyphs">4</text><text x="64" y="58.15" textLength="35" lengthAdjust="spacingAndGlyphs">10</text><text x="99.5" y="46.15" font-size="20.5" textLength="11.5" lengthAdjust="spacingAndGlyphs">5</text><text x="531" y="733.5" text-anchor="middle" textLength="84" lengthAdjust="spacingAndGlyphs"><tspan font-style="italic">T</tspan>, mK</text><text transform="translate(46.5 355.5) rotate(-90)" text-anchor="middle" textLength="61" lengthAdjust="spacingAndGlyphs"><tspan font-style="italic">R</tspan>, Ω</text><text x="740" y="462.1" textLength="167" lengthAdjust="spacingAndGlyphs">Ti5 (30 nm)</text><text x="740" y="504.1" textLength="167" lengthAdjust="spacingAndGlyphs">Ti4 (40 nm)</text><text x="740" y="546.1" textLength="167" lengthAdjust="spacingAndGlyphs">Ti3 (41 nm)</text><text x="740" y="588.1" textLength="167" lengthAdjust="spacingAndGlyphs">Ti2 (46 nm)</text><text x="740" y="630.1" textLength="167" lengthAdjust="spacingAndGlyphs">Ti1 (62 nm)</text><text x="40" y="18.6" font-weight="bold" font-size="36">a</text></g>
<g clip-path="url(#pb)"><rect x="0" y="780" width="1000" height="728" fill="url(#bg)"/><g transform="translate(497 787.5)"><path d="M5 150 L62 380 L132 362 L74.6 135Z" fill="url(#sgA)"/><path d="M0 0 L95.7 99.7 L97.5 101.8 L99 104.2 L100 106.6 L100.7 109.2 L100.9 111.8 L100.7 114.6 L100.1 117.4 L99.2 120.2 L97.8 123.1 L96 125.9 L93.8 128.8 L91.3 131.7 L88.4 134.5 L85.2 137.2 L81.7 139.9 L77.9 142.5 L73.8 144.9 L69.4 147.3 L64.9 149.5 L60.1 151.5 L55.2 153.4 L50.2 155.1 L45.1 156.7 L39.8 158 L34.6 159.2 L29.3 160.1 L24.1 160.8 L19 161.3 L13.9 161.6 L8.9 161.6 L4.1 161.4 L-0.5 161 L-4.9 160.4 L-9.1 159.5 L-13 158.5 L-16.7 157.2 L-20 155.8 L-23 154.1 L-25.7 152.3 L-27.9 150.3 L-29.9 148.1 L-31.4 145.8 L-32.5 143.4 L-33.3 140.9 L-33.6 138.2 L-33.5 135.5 L-33 132.7Z" fill="url(#cgA)"/><g clip-path="url(#chA)"><foreignObject x="-110" y="0" width="230" height="200"><div style="width:230px;height:200px;background:conic-gradient(from 119.90deg at 110px 0px, #b04414 0.00deg, #c24c17 14.00deg, #d0561b 17.50deg, #e8621f 21.70deg, #ec6a28 23.80deg, #f07a3a 24.20deg, #f28a4e 28.50deg, #f6a073 35.00deg, #fabb95 41.00deg, #fbbb95 48.00deg, #f6a677 55.00deg, #ee8650 60.00deg, #e3621e 60.60deg, #dc5e1d 62.00deg, #b94c1a 68.00deg, #9a3e12 75.00deg, #963a10 77.00deg, #8a340e 90.00deg)"></div></foreignObject></g></g><g transform="translate(47 1134.9)"><path d="M5 150 L62 380 L132 362 L74.6 135Z" fill="url(#sgA)"/><path d="M0 0 L95.7 99.7 L97.5 101.8 L99 104.2 L100 106.6 L100.7 109.2 L100.9 111.8 L100.7 114.6 L100.1 117.4 L99.2 120.2 L97.8 123.1 L96 125.9 L93.8 128.8 L91.3 131.7 L88.4 134.5 L85.2 137.2 L81.7 139.9 L77.9 142.5 L73.8 144.9 L69.4 147.3 L64.9 149.5 L60.1 151.5 L55.2 153.4 L50.2 155.1 L45.1 156.7 L39.8 158 L34.6 159.2 L29.3 160.1 L24.1 160.8 L19 161.3 L13.9 161.6 L8.9 161.6 L4.1 161.4 L-0.5 161 L-4.9 160.4 L-9.1 159.5 L-13 158.5 L-16.7 157.2 L-20 155.8 L-23 154.1 L-25.7 152.3 L-27.9 150.3 L-29.9 148.1 L-31.4 145.8 L-32.5 143.4 L-33.3 140.9 L-33.6 138.2 L-33.5 135.5 L-33 132.7Z" fill="url(#cgA)"/><g clip-path="url(#chA)"><foreignObject x="-110" y="0" width="230" height="200"><div style="width:230px;height:200px;background:conic-gradient(from 119.90deg at 110px 0px, #b04414 0.00deg, #c24c17 14.00deg, #d0561b 17.50deg, #e8621f 21.70deg, #ec6a28 23.80deg, #f07a3a 24.20deg, #f28a4e 28.50deg, #f6a073 35.00deg, #fabb95 41.00deg, #fbbb95 48.00deg, #f6a677 55.00deg, #ee8650 60.00deg, #e3621e 60.60deg, #dc5e1d 62.00deg, #b94c1a 68.00deg, #9a3e12 75.00deg, #963a10 77.00deg, #8a340e 90.00deg)"></div></foreignObject></g></g><path d="M-20 1457.1 L1020 612.6 L1020 891 L-20 1917.1Z" fill="#6ea39d"/><path d="M-20 1457.1 L1020 612.6 L1020 630.1 L-20 1485.3Z" fill="#588681"/><path d="M-20 1691.7 L1020 754.2 L1020 796 L-20 1760.5Z" fill="#86c4bc"/><ellipse cx="480" cy="1145" rx="153" ry="65" transform="rotate(-38.4 480 1145)" fill="#4f6d9a"/><circle cx="524.6" cy="1090.4" r="57.4" fill="url(#sb)"/><path d="M565.7 1094 L564.1 1097.7 L562.8 1100.1 L561.4 1102 L559.9 1103.6 L558.3 1105 L556.6 1106.2 L554.7 1107.1 L552.7 1107.8 L550.5 1108.3 L548.2 1108.6 L545.7 1108.8 L543.1 1108.7 L540.3 1108.3 L537.4 1107.8 L534.2 1107 L530.7 1106 L526.7 1104.6 L520.8 1102.3 L515 1099.9 L511.2 1098.1 L507.9 1096.4 L505.1 1094.8 L502.6 1093.1 L500.4 1091.4 L498.4 1089.6 L496.7 1087.9 L495.3 1086 L494.1 1084.1 L493.1 1082.2 L492.4 1080.2 L492 1078.2 L491.8 1076.1 L491.8 1073.9 L492.2 1071.6 L492.9 1068.9 L494.3 1065.2 L495.9 1061.5 L497.2 1059.1 L498.6 1057.2 L500.1 1055.6 L501.7 1054.2 L503.4 1053 L505.3 1052.1 L507.3 1051.4 L509.5 1050.9 L511.8 1050.6 L514.3 1050.4 L516.9 1050.5 L519.7 1050.9 L522.6 1051.4 L525.8 1052.2 L529.3 1053.2 L533.3 1054.6 L539.2 1056.9 L545 1059.3 L548.8 1061.1 L552.1 1062.8 L554.9 1064.4 L557.4 1066.1 L559.6 1067.8 L561.6 1069.6 L563.3 1071.3 L564.7 1073.2 L565.9 1075.1 L566.9 1077 L567.6 1079 L568 1081 L568.2 1083.1 L568.2 1085.3 L567.8 1087.6 L567.1 1090.3Z" fill="url(#hb)"/><circle cx="427.9" cy="1164.8" r="57.7" fill="url(#sr)"/><path d="M565.7 1094 L564.1 1097.7 L562.8 1100.1 L561.4 1102 L559.9 1103.6 L558.3 1105 L556.6 1106.2 L554.7 1107.1 L552.7 1107.8 L550.5 1108.3 L548.2 1108.6 L545.7 1108.8 L543.1 1108.7 L540.3 1108.3 L537.4 1107.8 L534.2 1107 L530.7 1106 L526.7 1104.6 L520.8 1102.3 L515 1099.9 L511.2 1098.1 L507.9 1096.4 L505.1 1094.8 L502.6 1093.1 L500.4 1091.4 L498.4 1089.6 L496.7 1087.9 L495.3 1086 L494.1 1084.1 L493.1 1082.2 L492.4 1080.2 L492 1078.2 L491.8 1076.1 L491.8 1073.9 L492.2 1071.6 L492.9 1068.9 L494.3 1065.2 L495.9 1061.5 L497.2 1059.1 L498.6 1057.2 L500.1 1055.6 L501.7 1054.2 L503.4 1053 L505.3 1052.1 L507.3 1051.4 L509.5 1050.9 L511.8 1050.6 L514.3 1050.4 L516.9 1050.5 L519.7 1050.9 L522.6 1051.4 L525.8 1052.2 L529.3 1053.2 L533.3 1054.6 L539.2 1056.9 L545 1059.3 L548.8 1061.1 L552.1 1062.8 L554.9 1064.4 L557.4 1066.1 L559.6 1067.8 L561.6 1069.6 L563.3 1071.3 L564.7 1073.2 L565.9 1075.1 L566.9 1077 L567.6 1079 L568 1081 L568.2 1083.1 L568.2 1085.3 L567.8 1087.6 L567.1 1090.3Z" transform="translate(-96.7 74.4)" fill="url(#hr)"/><path d="M557 979.7 C568.3 980.2 602.3 980 625 982.4 C647.7 984.8 673.2 989.8 693 994.3 C712.8 998.8 729.8 1002.5 744 1009.6 C758.2 1016.7 768.4 1026.6 778 1036.8 C787.6 1047 796.1 1060.8 801.8 1070.8 C807.5 1080.8 810.4 1092.6 812.1 1097" fill="none" stroke="#006838" stroke-width="10.8" stroke-dasharray="41 10" stroke-dashoffset="22"/><path d="M825.6 1132 Q825.6 1108.4 832.5 1082.7 L817.3 1095 L806.9 1099 L787.4 1100.1 Q809.7 1114.5 825.6 1132Z" fill="#006838"/><path d="M861.3 1036.8 C857.6 1030 847.4 1009 839.2 996 C831 983 825 970.5 812 958.6 C799 946.7 776.3 933.4 761 924.6 C745.7 915.8 732.7 910 720.2 905.9 C707.7 901.8 693.3 901 686.2 900.1 C679.1 899.2 679 900.4 677.6 900.4" fill="none" stroke="#006838" stroke-width="10.8" stroke-dasharray="41 9.4" stroke-dashoffset="21.4"/><path d="M640.1 900.7 Q662.2 909 683.8 924.5 L677.6 906 L677.5 894.8 L683.4 876.1 Q662 892 640.1 900.7Z" fill="#006838"/><path d="M110.5 1337 C115.8 1335 126.2 1328.8 142 1325.3 C157.8 1321.8 184 1316.9 205 1316 C226 1315.1 247 1316.6 268 1319.7 C289 1322.8 311.4 1327.1 331 1334.4 C350.6 1341.8 369.5 1352.6 385.6 1363.8 C401.7 1375 415.4 1388.5 427.6 1401.6 C439.8 1414.7 453.4 1435.5 458.6 1442.3" fill="none" stroke="#006838" stroke-width="10.8" stroke-dasharray="41 9.4" stroke-dashoffset="20"/><path d="M475 1476 Q473 1452.5 477.7 1426.3 L463.6 1439.8 L453.5 1444.8 L434.2 1447.5 Q457.7 1460 475 1476Z" fill="#006838"/><path d="M499 1414.2 C495.5 1408.6 487.1 1395.3 478 1380.6 C468.9 1365.9 455.6 1342.1 444.4 1326 C433.2 1309.9 424.8 1296.6 410.8 1284 C396.8 1271.4 377.2 1258.5 360.4 1250.4 C343.6 1242.4 326.1 1238.5 310 1235.7 C293.9 1232.9 274.2 1233.5 264 1233.6 C253.8 1233.6 251.1 1235.6 248.5 1236" fill="none" stroke="#006838" stroke-width="10.8" stroke-dasharray="41 7.6" stroke-dashoffset="20"/><path d="M211.3 1240.7 Q234.2 1246.4 257.5 1259.3 L249.2 1241.6 L247.8 1230.4 L251.4 1211.2 Q232.1 1229.5 211.3 1240.7Z" fill="#006838"/><g transform="translate(894.8 853.9)"><path d="M-26.2 150 L-21.3 244.1 L-20.8 246.7 L-19.5 249.1 L-17.6 251.4 L-15.1 253.5 L-11.9 255.4 L-8.2 257.1 L-4.1 258.4 L0.4 259.4 L5.2 260.1 L10.3 260.5 L15.4 260.4 L20.6 260.1 L25.7 259.3 L30.7 258.3 L35.3 256.9 L39.7 255.2 L43.6 253.3 L47 251.2 L49.8 248.8 L52 246.4 L53.6 243.8 L54.4 241.2 L54.6 238.6 L46.8 146Z" fill="url(#sgB)"/><path d="M0 0 L72.1 103.9 L73.9 106.9 L75.4 110 L76.3 113.1 L76.9 116.4 L76.9 119.6 L76.6 122.9 L75.7 126.1 L74.5 129.3 L72.8 132.4 L70.7 135.5 L68.1 138.5 L65.2 141.3 L61.9 144 L58.3 146.6 L54.3 149 L50 151.2 L45.5 153.1 L40.7 154.9 L35.7 156.5 L30.5 157.8 L25.2 158.9 L19.7 159.7 L14.2 160.2 L8.7 160.5 L3.1 160.6 L-2.4 160.3 L-7.8 159.8 L-13.1 159.1 L-18.3 158.1 L-23.3 156.8 L-28.1 155.3 L-32.7 153.6 L-37 151.6 L-41 149.5 L-44.6 147.2 L-47.9 144.6 L-50.9 142 L-53.4 139.1 L-55.5 136.2 L-57.2 133.2 L-58.5 130 L-59.3 126.9 L-59.7 123.6 L-59.7 120.4 L-59.1 117.1 L-58.2 113.9 L-56.8 110.7Z" fill="url(#cgB)"/><g clip-path="url(#chB)"><foreignObject x="-110" y="0" width="230" height="200"><div style="width:230px;height:200px;background:conic-gradient(from 130.90deg at 110px 0px, #b04414 0.00deg, #c24c17 14.00deg, #d0561b 17.50deg, #e8621f 21.70deg, #ec6a28 23.80deg, #f07a3a 24.20deg, #f28a4e 28.50deg, #f6a073 35.00deg, #fabb95 41.00deg, #fbbb95 48.00deg, #f6a677 55.00deg, #ee8650 60.00deg, #e3621e 60.60deg, #dc5e1d 62.00deg, #b94c1a 68.00deg, #9a3e12 75.00deg, #963a10 77.00deg, #8a340e 90.00deg)"></div></foreignObject></g></g><g transform="translate(525.8 1209.5)"><path d="M-26.2 150 L-21.3 244.1 L-20.8 246.7 L-19.5 249.1 L-17.6 251.4 L-15.1 253.5 L-11.9 255.4 L-8.2 257.1 L-4.1 258.4 L0.4 259.4 L5.2 260.1 L10.3 260.5 L15.4 260.4 L20.6 260.1 L25.7 259.3 L30.7 258.3 L35.3 256.9 L39.7 255.2 L43.6 253.3 L47 251.2 L49.8 248.8 L52 246.4 L53.6 243.8 L54.4 241.2 L54.6 238.6 L46.8 146Z" fill="url(#sgB)"/><path d="M0 0 L72.1 103.9 L73.9 106.9 L75.4 110 L76.3 113.1 L76.9 116.4 L76.9 119.6 L76.6 122.9 L75.7 126.1 L74.5 129.3 L72.8 132.4 L70.7 135.5 L68.1 138.5 L65.2 141.3 L61.9 144 L58.3 146.6 L54.3 149 L50 151.2 L45.5 153.1 L40.7 154.9 L35.7 156.5 L30.5 157.8 L25.2 158.9 L19.7 159.7 L14.2 160.2 L8.7 160.5 L3.1 160.6 L-2.4 160.3 L-7.8 159.8 L-13.1 159.1 L-18.3 158.1 L-23.3 156.8 L-28.1 155.3 L-32.7 153.6 L-37 151.6 L-41 149.5 L-44.6 147.2 L-47.9 144.6 L-50.9 142 L-53.4 139.1 L-55.5 136.2 L-57.2 133.2 L-58.5 130 L-59.3 126.9 L-59.7 123.6 L-59.7 120.4 L-59.1 117.1 L-58.2 113.9 L-56.8 110.7Z" fill="url(#cgB)"/><g clip-path="url(#chB)"><foreignObject x="-110" y="0" width="230" height="200"><div style="width:230px;height:200px;background:conic-gradient(from 130.90deg at 110px 0px, #b04414 0.00deg, #c24c17 14.00deg, #d0561b 17.50deg, #e8621f 21.70deg, #ec6a28 23.80deg, #f07a3a 24.20deg, #f28a4e 28.50deg, #f6a073 35.00deg, #fabb95 41.00deg, #fbbb95 48.00deg, #f6a677 55.00deg, #ee8650 60.00deg, #e3621e 60.60deg, #dc5e1d 62.00deg, #b94c1a 68.00deg, #9a3e12 75.00deg, #963a10 77.00deg, #8a340e 90.00deg)"></div></foreignObject></g></g><g fill="none" stroke="#231f20"><ellipse cx="514" cy="888" rx="11" ry="10.45" stroke-width="3.4"/><ellipse cx="534.5" cy="893.5" rx="4.3" ry="6.45" stroke-width="2.8"/></g><rect x="512.5" y="874" width="3" height="28" fill="#231f20"/><g fill="none" stroke="#231f20"><ellipse cx="73" cy="1233.7" rx="11" ry="10.45" stroke-width="3.4"/><ellipse cx="93.5" cy="1239.2" rx="4.3" ry="6.45" stroke-width="2.8"/></g><rect x="71.5" y="1219.7" width="3" height="28" fill="#231f20"/><g fill="none" stroke="#231f20"><ellipse cx="900.5" cy="948.7" rx="11" ry="10.45" stroke-width="3.4"/><ellipse cx="921" cy="954.2" rx="4.3" ry="6.45" stroke-width="2.8"/></g><rect x="899" y="934.7" width="3" height="28" fill="#231f20"/><g fill="none" stroke="#231f20"><ellipse cx="532.3" cy="1316" rx="11" ry="10.45" stroke-width="3.4"/><ellipse cx="552.8" cy="1321.5" rx="4.3" ry="6.45" stroke-width="2.8"/></g><rect x="530.8" y="1302" width="3" height="28" fill="#231f20"/><text x="375" y="1085.8" font-family="Liberation Sans" font-weight="bold" font-size="55" fill="#231f20" stroke="#231f20" stroke-width="1" textLength="58" lengthAdjust="spacingAndGlyphs">2e</text><text x="51" y="1483.8" font-family="Liberation Sans" font-weight="bold" font-size="47.5" fill="#231f20" stroke="#231f20" stroke-width="1.2" textLength="59" lengthAdjust="spacingAndGlyphs">SC</text><text x="41" y="849.5" font-family="Liberation Serif" font-weight="bold" font-size="38" fill="#231f20">b</text></g><rect x="4.25" y="786.5" width="991.5" height="717.25" rx="57" ry="57" fill="none" stroke="#262262" stroke-width="8.5"/>
</svg>
</body></html>
